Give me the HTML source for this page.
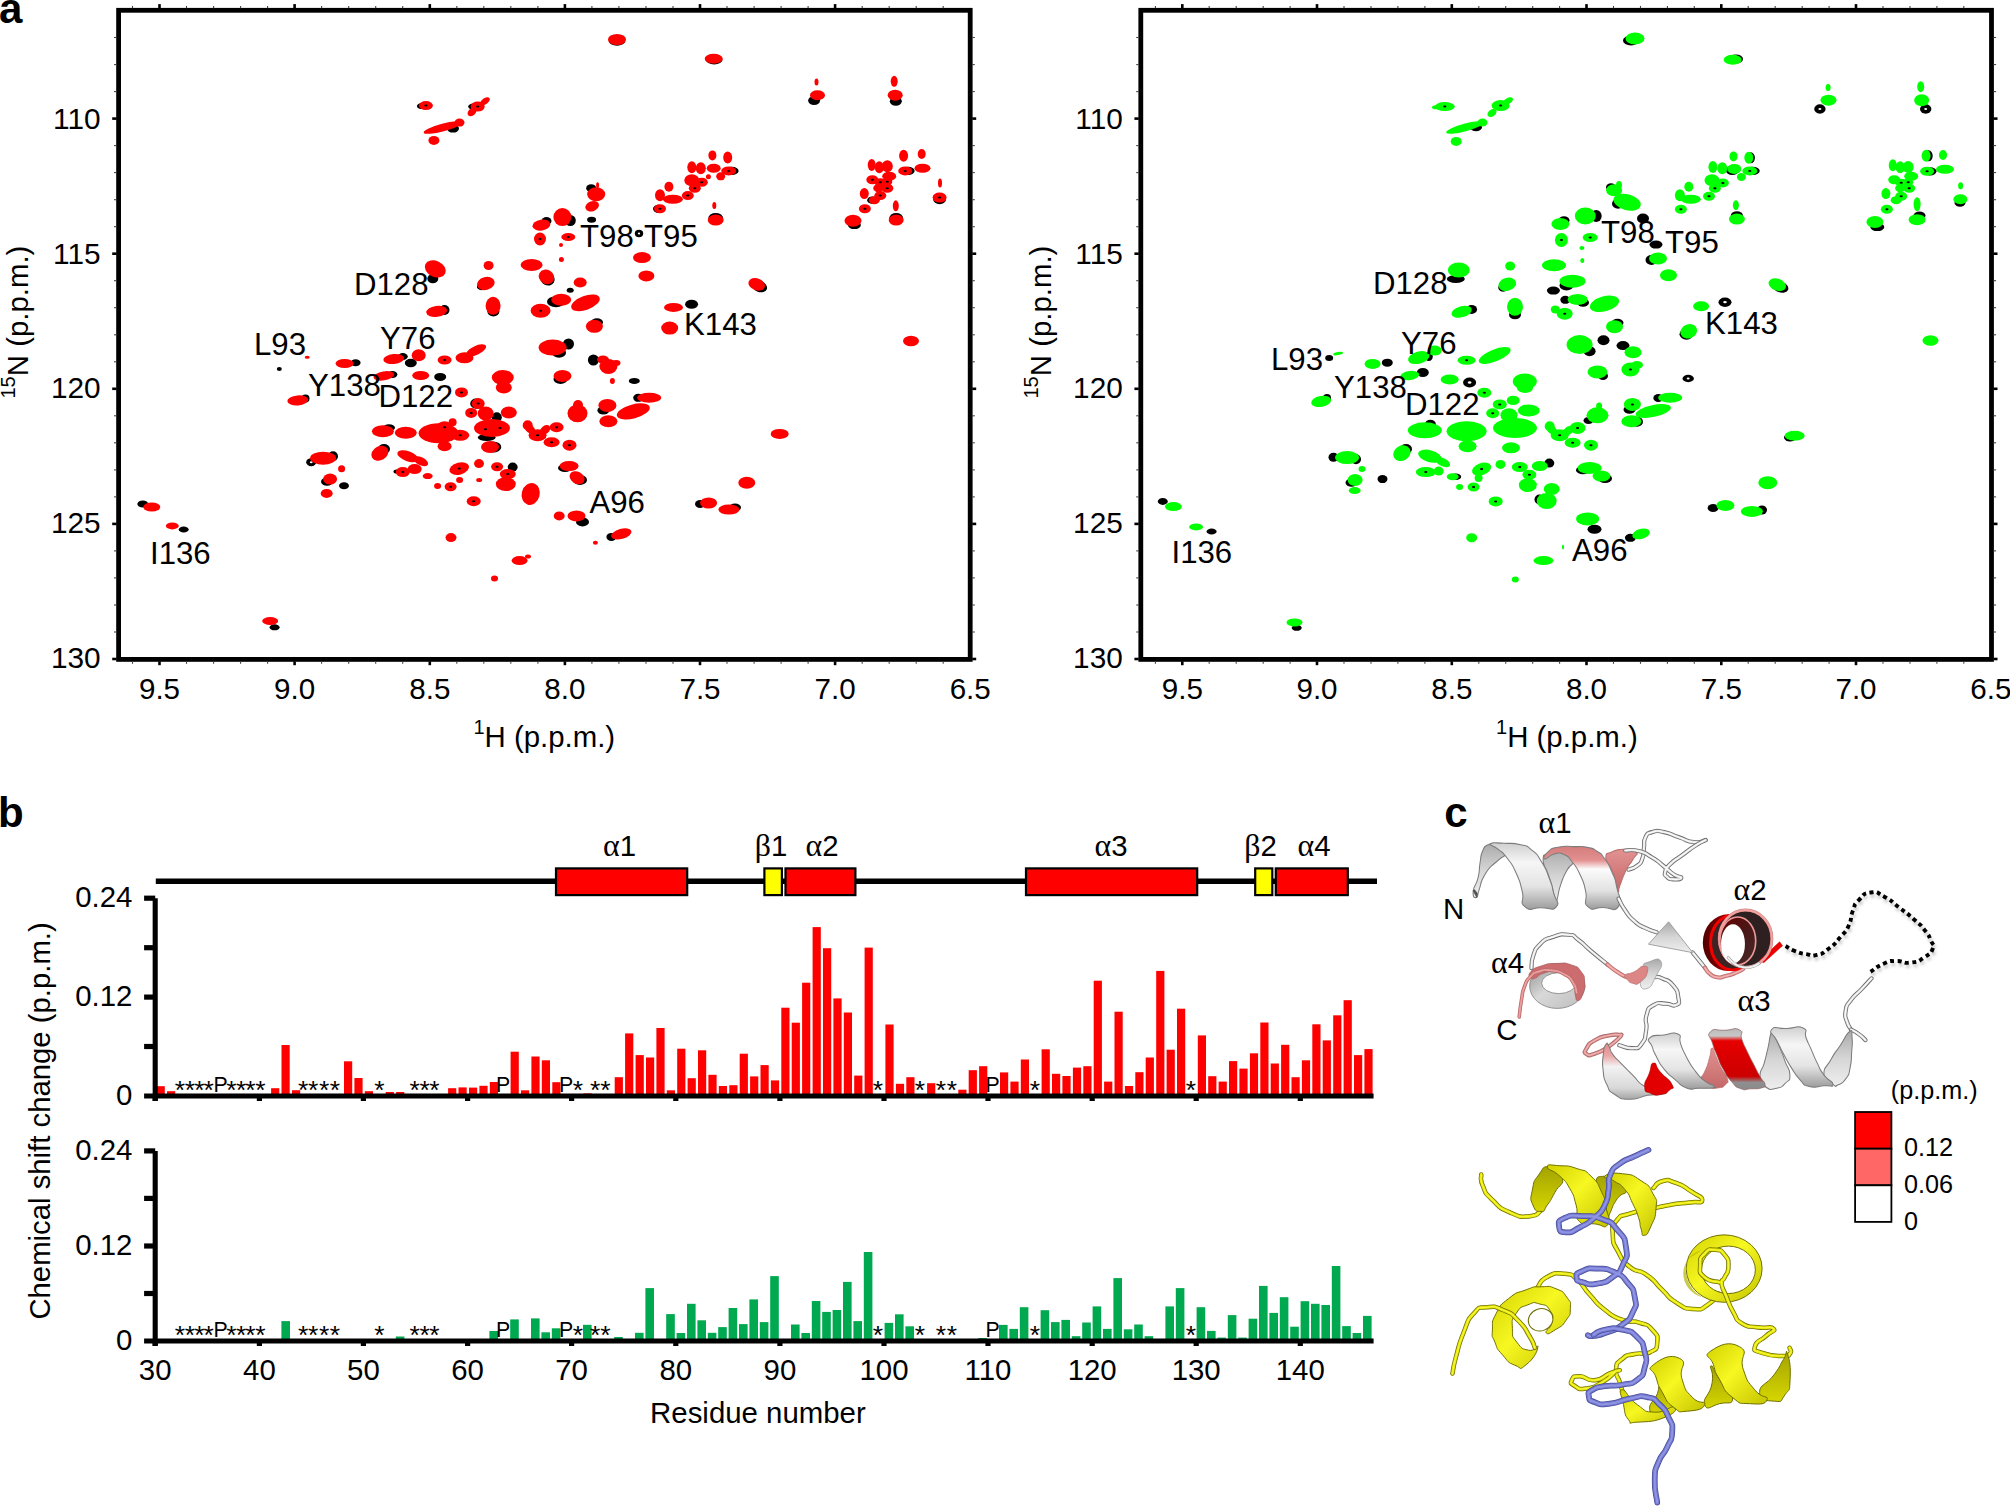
<!DOCTYPE html>
<html><head><meta charset="utf-8"><title>Figure</title>
<style>html,body{margin:0;padding:0;background:#fff}svg{display:block}</style></head><body>
<svg width="2010" height="1506" viewBox="0 0 2010 1506">
<rect width="2010" height="1506" fill="#fff"/>
<text x="-1.0" y="22.9" font-size="42" text-anchor="start" font-weight="bold" font-family='"Liberation Sans", sans-serif' >a</text>
<text x="-2.0" y="826.8" font-size="42" text-anchor="start" font-weight="bold" font-family='"Liberation Sans", sans-serif' >b</text>
<text x="1444.3" y="826.9" font-size="42" text-anchor="start" font-weight="bold" font-family='"Liberation Sans", sans-serif' >c</text>
<ellipse cx="617.0" cy="40.7" rx="8.3" ry="5.1" fill="#000"/>
<ellipse cx="714.2" cy="59.8" rx="8.3" ry="4.6" fill="#000"/>
<ellipse cx="421.9" cy="106.1" rx="5.0" ry="3.0" fill="#000"/>
<ellipse cx="473.2" cy="106.6" rx="5.0" ry="3.0" fill="#000"/>
<ellipse cx="453.0" cy="128.6" rx="6.0" ry="4.0" fill="#000"/>
<ellipse cx="731.7" cy="170.9" rx="6.9" ry="4.1" fill="#000"/>
<ellipse cx="658.5" cy="208.8" rx="5.5" ry="4.1" fill="#000"/>
<ellipse cx="715.7" cy="218.1" rx="7.4" ry="5.1" fill="#000"/>
<ellipse cx="591.2" cy="188.2" rx="5.0" ry="4.0" fill="#000"/>
<ellipse cx="570.3" cy="220.5" rx="5.5" ry="5.5" fill="#000"/>
<ellipse cx="546.5" cy="221.0" rx="5.0" ry="4.0" fill="#000"/>
<ellipse cx="591.6" cy="219.7" rx="4.5" ry="3.0" fill="#000"/>
<ellipse cx="639.0" cy="233.5" rx="4.2" ry="3.7" fill="#000"/>
<ellipse cx="639.0" cy="233.5" rx="1.1" ry="0.9" fill="#fff"/>
<ellipse cx="759.5" cy="286.5" rx="7.8" ry="5.5" fill="#000" transform="rotate(20 759.5 286.5)"/>
<ellipse cx="432.8" cy="278.7" rx="5.5" ry="4.5" fill="#000"/>
<ellipse cx="482.8" cy="286.0" rx="6.0" ry="4.0" fill="#000" transform="rotate(-15 482.8 286.0)"/>
<ellipse cx="547.5" cy="278.9" rx="7.4" ry="6.4" fill="#000" transform="rotate(30 547.5 278.9)"/>
<ellipse cx="570.2" cy="290.3" rx="3.5" ry="2.5" fill="#000"/>
<ellipse cx="814.1" cy="100.6" rx="6.0" ry="4.5" fill="#000"/>
<ellipse cx="895.8" cy="101.2" rx="6.0" ry="4.5" fill="#000"/>
<ellipse cx="908.2" cy="170.9" rx="6.4" ry="4.1" fill="#000"/>
<ellipse cx="872.3" cy="200.2" rx="5.1" ry="3.7" fill="#000"/>
<ellipse cx="896.2" cy="218.1" rx="6.9" ry="5.1" fill="#000"/>
<ellipse cx="854.4" cy="225.1" rx="6.5" ry="4.0" fill="#000"/>
<ellipse cx="939.6" cy="199.6" rx="6.4" ry="4.6" fill="#000"/>
<ellipse cx="493.4" cy="311.5" rx="6.0" ry="5.0" fill="#000"/>
<ellipse cx="444.5" cy="310.0" rx="5.0" ry="5.0" fill="#000"/>
<ellipse cx="279.3" cy="369.1" rx="2.5" ry="2.0" fill="#000"/>
<ellipse cx="355.6" cy="362.7" rx="5.0" ry="3.5" fill="#000"/>
<ellipse cx="402.8" cy="356.6" rx="5.0" ry="3.5" fill="#000"/>
<ellipse cx="410.8" cy="363.0" rx="6.0" ry="4.2" fill="#000"/>
<ellipse cx="392.4" cy="374.5" rx="5.0" ry="3.5" fill="#000"/>
<ellipse cx="440.2" cy="376.9" rx="6.0" ry="4.0" fill="#000"/>
<ellipse cx="305.5" cy="398.5" rx="4.0" ry="4.0" fill="#000"/>
<ellipse cx="476.2" cy="403.6" rx="6.0" ry="5.1" fill="#000"/>
<ellipse cx="496.8" cy="417.3" rx="5.0" ry="5.0" fill="#000"/>
<ellipse cx="389.0" cy="427.7" rx="6.0" ry="3.5" fill="#000"/>
<ellipse cx="486.7" cy="437.5" rx="9.0" ry="3.5" fill="#000"/>
<ellipse cx="493.0" cy="447.0" rx="8.3" ry="5.5" fill="#000"/>
<ellipse cx="311.2" cy="462.2" rx="5.0" ry="4.0" fill="#000"/>
<ellipse cx="311.2" cy="462.2" rx="1.4" ry="1.0" fill="#fff"/>
<ellipse cx="333.0" cy="456.2" rx="5.0" ry="5.0" fill="#000"/>
<ellipse cx="384.0" cy="449.0" rx="6.0" ry="5.0" fill="#000"/>
<ellipse cx="327.0" cy="481.7" rx="6.0" ry="4.0" fill="#000"/>
<ellipse cx="344.0" cy="485.7" rx="5.0" ry="3.5" fill="#000"/>
<ellipse cx="396.5" cy="471.5" rx="3.0" ry="2.0" fill="#000"/>
<ellipse cx="512.7" cy="467.1" rx="5.0" ry="4.5" fill="#000"/>
<ellipse cx="142.8" cy="504.0" rx="5.5" ry="3.5" fill="#000"/>
<ellipse cx="183.7" cy="529.5" rx="5.0" ry="3.0" fill="#000"/>
<ellipse cx="556.0" cy="301.7" rx="9.0" ry="5.5" fill="#000"/>
<ellipse cx="597.0" cy="322.3" rx="6.0" ry="4.0" fill="#000"/>
<ellipse cx="691.6" cy="304.2" rx="6.5" ry="4.5" fill="#000"/>
<ellipse cx="568.5" cy="344.0" rx="5.5" ry="5.5" fill="#000"/>
<ellipse cx="559.0" cy="352.7" rx="7.0" ry="5.0" fill="#000"/>
<ellipse cx="593.4" cy="360.0" rx="5.5" ry="5.5" fill="#000"/>
<ellipse cx="634.3" cy="380.9" rx="5.5" ry="3.0" fill="#000"/>
<ellipse cx="560.5" cy="379.0" rx="7.0" ry="5.0" fill="#000"/>
<ellipse cx="638.2" cy="397.8" rx="5.0" ry="4.0" fill="#000"/>
<ellipse cx="603.4" cy="410.4" rx="6.0" ry="4.0" fill="#000"/>
<ellipse cx="565.0" cy="468.0" rx="7.0" ry="4.0" fill="#000"/>
<ellipse cx="580.0" cy="480.0" rx="7.0" ry="5.0" fill="#000"/>
<ellipse cx="700.0" cy="504.0" rx="5.0" ry="4.0" fill="#000"/>
<ellipse cx="735.0" cy="507.5" rx="6.0" ry="4.0" fill="#000"/>
<ellipse cx="582.5" cy="521.9" rx="6.5" ry="4.5" fill="#000"/>
<ellipse cx="611.4" cy="536.9" rx="5.0" ry="4.0" fill="#000"/>
<ellipse cx="274.6" cy="627.3" rx="5.0" ry="3.0" fill="#000"/>
<ellipse cx="617.0" cy="39.5" rx="9.0" ry="5.5" fill="#ff0000"/>
<ellipse cx="713.7" cy="58.8" rx="9.0" ry="5.0" fill="#ff0000"/>
<ellipse cx="425.9" cy="105.6" rx="7.0" ry="4.5" fill="#ff0000"/>
<ellipse cx="477.7" cy="106.6" rx="7.0" ry="5.0" fill="#ff0000"/>
<ellipse cx="485.0" cy="101.3" rx="5.5" ry="3.0" fill="#ff0000" transform="rotate(-35 485.0 101.3)"/>
<ellipse cx="472.0" cy="112.0" rx="5.0" ry="3.5" fill="#ff0000" transform="rotate(-40 472.0 112.0)"/>
<ellipse cx="443.0" cy="127.5" rx="20.0" ry="3.8" fill="#ff0000" transform="rotate(-15 443.0 127.5)"/>
<ellipse cx="459.5" cy="122.6" rx="5.0" ry="4.0" fill="#ff0000"/>
<ellipse cx="433.9" cy="140.4" rx="5.5" ry="4.5" fill="#ff0000"/>
<ellipse cx="712.4" cy="155.4" rx="4.0" ry="5.0" fill="#ff0000"/>
<ellipse cx="727.7" cy="157.4" rx="4.5" ry="6.0" fill="#ff0000"/>
<ellipse cx="691.8" cy="167.3" rx="4.5" ry="6.0" fill="#ff0000"/>
<ellipse cx="700.8" cy="168.3" rx="5.0" ry="6.0" fill="#ff0000"/>
<ellipse cx="713.7" cy="168.3" rx="7.0" ry="4.5" fill="#ff0000"/>
<ellipse cx="728.7" cy="170.9" rx="7.5" ry="4.5" fill="#ff0000"/>
<ellipse cx="720.7" cy="176.3" rx="4.5" ry="4.0" fill="#ff0000"/>
<ellipse cx="708.4" cy="176.7" rx="2.5" ry="2.5" fill="#ff0000"/>
<ellipse cx="691.8" cy="180.3" rx="7.5" ry="6.0" fill="#ff0000"/>
<ellipse cx="701.8" cy="182.3" rx="6.0" ry="4.5" fill="#ff0000"/>
<ellipse cx="694.8" cy="188.2" rx="6.0" ry="4.5" fill="#ff0000"/>
<ellipse cx="687.8" cy="195.6" rx="6.0" ry="4.5" fill="#ff0000"/>
<ellipse cx="668.9" cy="186.7" rx="4.5" ry="5.0" fill="#ff0000"/>
<ellipse cx="660.0" cy="195.2" rx="5.0" ry="6.0" fill="#ff0000"/>
<ellipse cx="672.9" cy="199.2" rx="10.0" ry="4.5" fill="#ff0000"/>
<ellipse cx="660.0" cy="208.8" rx="6.0" ry="4.5" fill="#ff0000"/>
<ellipse cx="714.3" cy="205.6" rx="2.0" ry="3.5" fill="#ff0000"/>
<ellipse cx="715.7" cy="220.1" rx="8.0" ry="5.5" fill="#ff0000"/>
<ellipse cx="596.2" cy="194.2" rx="9.0" ry="7.0" fill="#ff0000"/>
<ellipse cx="592.2" cy="206.2" rx="7.0" ry="5.0" fill="#ff0000" transform="rotate(-20 592.2 206.2)"/>
<ellipse cx="597.6" cy="185.3" rx="1.5" ry="3.0" fill="#ff0000"/>
<ellipse cx="562.4" cy="217.1" rx="9.0" ry="9.0" fill="#ff0000"/>
<ellipse cx="541.4" cy="225.1" rx="9.0" ry="5.5" fill="#ff0000" transform="rotate(-8 541.4 225.1)"/>
<ellipse cx="540.0" cy="239.0" rx="6.0" ry="6.5" fill="#ff0000"/>
<ellipse cx="568.3" cy="237.0" rx="7.0" ry="4.0" fill="#ff0000"/>
<ellipse cx="561.0" cy="245.0" rx="2.0" ry="2.0" fill="#ff0000"/>
<ellipse cx="561.4" cy="259.4" rx="2.5" ry="2.5" fill="#ff0000"/>
<ellipse cx="642.0" cy="257.6" rx="9.0" ry="5.5" fill="#ff0000"/>
<ellipse cx="646.4" cy="275.9" rx="8.0" ry="5.5" fill="#ff0000"/>
<ellipse cx="756.7" cy="284.3" rx="8.5" ry="6.0" fill="#ff0000" transform="rotate(20 756.7 284.3)"/>
<ellipse cx="435.3" cy="268.9" rx="11.0" ry="8.0" fill="#ff0000" transform="rotate(25 435.3 268.9)"/>
<ellipse cx="488.6" cy="265.5" rx="5.0" ry="4.5" fill="#ff0000"/>
<ellipse cx="485.8" cy="283.5" rx="9.0" ry="6.5" fill="#ff0000" transform="rotate(-15 485.8 283.5)"/>
<ellipse cx="531.6" cy="264.9" rx="11.0" ry="6.0" fill="#ff0000"/>
<ellipse cx="546.5" cy="276.9" rx="8.0" ry="7.0" fill="#ff0000" transform="rotate(30 546.5 276.9)"/>
<ellipse cx="580.2" cy="282.5" rx="6.5" ry="5.0" fill="#ff0000"/>
<ellipse cx="816.5" cy="82.0" rx="2.0" ry="3.5" fill="#ff0000"/>
<ellipse cx="817.5" cy="95.2" rx="7.5" ry="5.0" fill="#ff0000"/>
<ellipse cx="894.2" cy="81.3" rx="3.5" ry="5.5" fill="#ff0000"/>
<ellipse cx="895.2" cy="95.2" rx="7.5" ry="5.5" fill="#ff0000"/>
<ellipse cx="903.6" cy="155.8" rx="4.5" ry="6.0" fill="#ff0000"/>
<ellipse cx="921.7" cy="154.0" rx="4.0" ry="5.0" fill="#ff0000"/>
<ellipse cx="922.5" cy="168.3" rx="8.0" ry="4.5" fill="#ff0000"/>
<ellipse cx="905.2" cy="170.9" rx="7.0" ry="4.5" fill="#ff0000"/>
<ellipse cx="871.7" cy="164.9" rx="4.0" ry="6.0" fill="#ff0000"/>
<ellipse cx="879.3" cy="167.3" rx="4.5" ry="6.0" fill="#ff0000"/>
<ellipse cx="887.3" cy="166.3" rx="5.5" ry="6.0" fill="#ff0000"/>
<ellipse cx="889.2" cy="176.3" rx="7.0" ry="4.5" fill="#ff0000"/>
<ellipse cx="872.3" cy="179.7" rx="6.0" ry="4.5" fill="#ff0000"/>
<ellipse cx="880.3" cy="182.3" rx="6.0" ry="4.0" fill="#ff0000"/>
<ellipse cx="887.3" cy="181.7" rx="5.0" ry="4.0" fill="#ff0000"/>
<ellipse cx="887.3" cy="188.2" rx="6.0" ry="4.5" fill="#ff0000"/>
<ellipse cx="878.3" cy="188.2" rx="5.0" ry="4.0" fill="#ff0000"/>
<ellipse cx="864.3" cy="193.6" rx="4.5" ry="5.5" fill="#ff0000"/>
<ellipse cx="880.3" cy="195.6" rx="6.0" ry="4.5" fill="#ff0000"/>
<ellipse cx="874.3" cy="200.2" rx="5.5" ry="4.0" fill="#ff0000"/>
<ellipse cx="864.9" cy="208.8" rx="6.0" ry="4.5" fill="#ff0000"/>
<ellipse cx="895.8" cy="205.8" rx="3.0" ry="5.5" fill="#ff0000"/>
<ellipse cx="896.2" cy="220.1" rx="7.5" ry="5.5" fill="#ff0000"/>
<ellipse cx="853.0" cy="220.7" rx="8.5" ry="6.0" fill="#ff0000"/>
<ellipse cx="940.0" cy="182.9" rx="2.0" ry="4.5" fill="#ff0000"/>
<ellipse cx="939.6" cy="197.6" rx="7.0" ry="5.0" fill="#ff0000"/>
<ellipse cx="911.0" cy="341.0" rx="8.0" ry="5.2" fill="#ff0000"/>
<ellipse cx="493.1" cy="305.8" rx="7.5" ry="9.0" fill="#ff0000"/>
<ellipse cx="436.7" cy="311.4" rx="10.5" ry="5.5" fill="#ff0000" transform="rotate(-8 436.7 311.4)"/>
<ellipse cx="307.2" cy="357.2" rx="2.5" ry="1.5" fill="#ff0000"/>
<ellipse cx="344.6" cy="363.5" rx="9.0" ry="4.5" fill="#ff0000"/>
<ellipse cx="393.8" cy="359.0" rx="10.5" ry="5.0" fill="#ff0000" transform="rotate(-5 393.8 359.0)"/>
<ellipse cx="418.7" cy="355.2" rx="7.0" ry="6.0" fill="#ff0000"/>
<ellipse cx="444.6" cy="360.0" rx="7.0" ry="4.5" fill="#ff0000"/>
<ellipse cx="464.5" cy="357.8" rx="9.0" ry="5.5" fill="#ff0000"/>
<ellipse cx="476.0" cy="350.5" rx="11.0" ry="4.5" fill="#ff0000" transform="rotate(-25 476.0 350.5)"/>
<ellipse cx="383.9" cy="375.9" rx="10.5" ry="4.5" fill="#ff0000" transform="rotate(-10 383.9 375.9)"/>
<ellipse cx="420.7" cy="375.5" rx="8.5" ry="4.5" fill="#ff0000"/>
<ellipse cx="502.8" cy="377.5" rx="11.0" ry="7.5" fill="#ff0000"/>
<ellipse cx="503.8" cy="387.5" rx="8.0" ry="6.0" fill="#ff0000"/>
<ellipse cx="297.8" cy="400.4" rx="10.5" ry="5.0" fill="#ff0000" transform="rotate(-5 297.8 400.4)"/>
<ellipse cx="461.5" cy="392.4" rx="6.5" ry="5.0" fill="#ff0000"/>
<ellipse cx="478.2" cy="403.6" rx="6.5" ry="5.5" fill="#ff0000"/>
<ellipse cx="471.2" cy="412.9" rx="6.0" ry="5.0" fill="#ff0000"/>
<ellipse cx="485.7" cy="413.5" rx="8.0" ry="7.0" fill="#ff0000"/>
<ellipse cx="508.8" cy="412.4" rx="8.0" ry="6.0" fill="#ff0000"/>
<ellipse cx="382.9" cy="431.3" rx="11.0" ry="6.0" fill="#ff0000"/>
<ellipse cx="405.8" cy="432.7" rx="11.0" ry="6.0" fill="#ff0000"/>
<ellipse cx="438.6" cy="433.3" rx="20.0" ry="10.0" fill="#ff0000"/>
<ellipse cx="444.6" cy="427.3" rx="8.0" ry="6.0" fill="#ff0000"/>
<ellipse cx="452.6" cy="422.3" rx="4.0" ry="4.0" fill="#ff0000"/>
<ellipse cx="460.3" cy="435.3" rx="9.0" ry="5.5" fill="#ff0000"/>
<ellipse cx="492.0" cy="428.0" rx="18.0" ry="9.0" fill="#ff0000"/>
<ellipse cx="485.5" cy="429.3" rx="3.0" ry="2.0" fill="#ff0000"/>
<ellipse cx="500.0" cy="428.0" rx="3.0" ry="2.0" fill="#ff0000"/>
<ellipse cx="444.6" cy="446.2" rx="7.0" ry="5.0" fill="#ff0000"/>
<ellipse cx="490.0" cy="447.0" rx="9.0" ry="6.0" fill="#ff0000"/>
<ellipse cx="323.1" cy="458.2" rx="13.0" ry="6.5" fill="#ff0000"/>
<ellipse cx="379.9" cy="453.2" rx="9.0" ry="7.0" fill="#ff0000" transform="rotate(-30 379.9 453.2)"/>
<ellipse cx="341.6" cy="468.7" rx="3.5" ry="3.5" fill="#ff0000"/>
<ellipse cx="330.1" cy="479.1" rx="7.0" ry="5.5" fill="#ff0000"/>
<ellipse cx="326.7" cy="493.4" rx="6.0" ry="4.5" fill="#ff0000"/>
<ellipse cx="407.8" cy="456.2" rx="11.0" ry="5.0" fill="#ff0000" transform="rotate(20 407.8 456.2)"/>
<ellipse cx="420.7" cy="461.2" rx="8.0" ry="4.0" fill="#ff0000" transform="rotate(25 420.7 461.2)"/>
<ellipse cx="402.8" cy="472.1" rx="7.0" ry="5.0" fill="#ff0000"/>
<ellipse cx="414.7" cy="469.1" rx="7.0" ry="5.0" fill="#ff0000"/>
<ellipse cx="427.7" cy="476.1" rx="5.0" ry="3.0" fill="#ff0000"/>
<ellipse cx="437.6" cy="486.0" rx="3.5" ry="3.0" fill="#ff0000"/>
<ellipse cx="450.6" cy="486.7" rx="6.0" ry="4.5" fill="#ff0000"/>
<ellipse cx="459.3" cy="468.6" rx="10.0" ry="6.0" fill="#ff0000" transform="rotate(-15 459.3 468.6)"/>
<ellipse cx="479.0" cy="463.6" rx="5.0" ry="4.5" fill="#ff0000"/>
<ellipse cx="497.1" cy="466.7" rx="6.0" ry="4.5" fill="#ff0000"/>
<ellipse cx="459.6" cy="480.0" rx="3.5" ry="3.0" fill="#ff0000"/>
<ellipse cx="479.2" cy="480.0" rx="3.0" ry="2.0" fill="#ff0000"/>
<ellipse cx="473.7" cy="501.2" rx="7.0" ry="5.0" fill="#ff0000"/>
<ellipse cx="451.0" cy="537.6" rx="5.5" ry="4.5" fill="#ff0000"/>
<ellipse cx="151.8" cy="507.0" rx="8.5" ry="4.5" fill="#ff0000"/>
<ellipse cx="172.3" cy="525.9" rx="6.5" ry="3.5" fill="#ff0000"/>
<ellipse cx="561.2" cy="299.8" rx="10.0" ry="6.0" fill="#ff0000"/>
<ellipse cx="585.5" cy="302.8" rx="15.0" ry="7.0" fill="#ff0000" transform="rotate(-20 585.5 302.8)"/>
<ellipse cx="540.6" cy="310.8" rx="10.0" ry="7.0" fill="#ff0000"/>
<ellipse cx="594.4" cy="326.3" rx="8.5" ry="6.5" fill="#ff0000"/>
<ellipse cx="673.5" cy="307.4" rx="9.5" ry="4.5" fill="#ff0000"/>
<ellipse cx="669.7" cy="328.1" rx="8.5" ry="6.5" fill="#ff0000"/>
<ellipse cx="552.6" cy="347.6" rx="14.0" ry="8.0" fill="#ff0000"/>
<ellipse cx="608.4" cy="366.5" rx="9.0" ry="7.5" fill="#ff0000"/>
<ellipse cx="603.0" cy="359.5" rx="6.0" ry="4.0" fill="#ff0000"/>
<ellipse cx="616.0" cy="363.0" rx="4.5" ry="3.0" fill="#ff0000"/>
<ellipse cx="612.4" cy="380.9" rx="2.5" ry="3.0" fill="#ff0000"/>
<ellipse cx="562.5" cy="375.9" rx="9.0" ry="6.0" fill="#ff0000"/>
<ellipse cx="649.2" cy="397.8" rx="12.0" ry="5.0" fill="#ff0000"/>
<ellipse cx="607.4" cy="405.4" rx="9.0" ry="6.5" fill="#ff0000"/>
<ellipse cx="633.3" cy="411.4" rx="17.0" ry="7.0" fill="#ff0000" transform="rotate(-15 633.3 411.4)"/>
<ellipse cx="608.4" cy="421.3" rx="9.0" ry="6.0" fill="#ff0000"/>
<ellipse cx="577.5" cy="413.3" rx="10.0" ry="9.0" fill="#ff0000"/>
<ellipse cx="578.0" cy="405.0" rx="5.0" ry="5.0" fill="#ff0000"/>
<ellipse cx="527.7" cy="425.3" rx="5.0" ry="5.0" fill="#ff0000"/>
<ellipse cx="537.6" cy="435.3" rx="9.0" ry="6.0" fill="#ff0000"/>
<ellipse cx="530.0" cy="429.0" rx="6.0" ry="4.0" fill="#ff0000" transform="rotate(40 530.0 429.0)"/>
<ellipse cx="545.0" cy="430.0" rx="6.0" ry="4.0" fill="#ff0000" transform="rotate(-40 545.0 430.0)"/>
<ellipse cx="556.6" cy="427.3" rx="7.0" ry="5.0" fill="#ff0000"/>
<ellipse cx="551.6" cy="442.2" rx="8.0" ry="5.0" fill="#ff0000"/>
<ellipse cx="569.5" cy="445.2" rx="7.0" ry="5.5" fill="#ff0000"/>
<ellipse cx="507.8" cy="474.1" rx="8.0" ry="5.0" fill="#ff0000"/>
<ellipse cx="505.8" cy="484.1" rx="10.0" ry="7.0" fill="#ff0000"/>
<ellipse cx="530.7" cy="494.0" rx="9.0" ry="11.0" fill="#ff0000" transform="rotate(15 530.7 494.0)"/>
<ellipse cx="569.1" cy="466.1" rx="9.5" ry="5.0" fill="#ff0000"/>
<ellipse cx="577.1" cy="477.7" rx="8.0" ry="6.0" fill="#ff0000" transform="rotate(30 577.1 477.7)"/>
<ellipse cx="779.7" cy="433.9" rx="9.0" ry="5.0" fill="#ff0000"/>
<ellipse cx="746.8" cy="482.7" rx="8.5" ry="6.0" fill="#ff0000"/>
<ellipse cx="708.6" cy="503.0" rx="8.5" ry="5.5" fill="#ff0000"/>
<ellipse cx="728.9" cy="509.6" rx="10.5" ry="5.0" fill="#ff0000"/>
<ellipse cx="559.2" cy="515.9" rx="5.5" ry="4.5" fill="#ff0000"/>
<ellipse cx="576.5" cy="515.9" rx="9.0" ry="5.5" fill="#ff0000"/>
<ellipse cx="621.3" cy="533.9" rx="10.5" ry="5.0" fill="#ff0000" transform="rotate(-15 621.3 533.9)"/>
<ellipse cx="595.4" cy="542.8" rx="2.5" ry="2.0" fill="#ff0000"/>
<ellipse cx="270.2" cy="621.0" rx="8.0" ry="4.0" fill="#ff0000"/>
<ellipse cx="519.6" cy="560.6" rx="8.0" ry="4.5" fill="#ff0000"/>
<ellipse cx="528.0" cy="556.5" rx="3.0" ry="2.0" fill="#ff0000"/>
<ellipse cx="494.5" cy="578.5" rx="3.5" ry="3.0" fill="#ff0000"/>
<ellipse cx="425.9" cy="105.6" rx="1.6" ry="1.0" fill="#000"/>
<ellipse cx="477.7" cy="106.6" rx="1.6" ry="1.0" fill="#000"/>
<ellipse cx="728.7" cy="170.9" rx="1.6" ry="1.0" fill="#000"/>
<ellipse cx="701.8" cy="182.3" rx="1.6" ry="1.0" fill="#000"/>
<ellipse cx="694.8" cy="188.2" rx="1.6" ry="1.0" fill="#000"/>
<ellipse cx="687.8" cy="195.6" rx="1.6" ry="1.0" fill="#000"/>
<ellipse cx="660.0" cy="208.8" rx="1.6" ry="1.0" fill="#000"/>
<ellipse cx="540.0" cy="239.0" rx="1.6" ry="1.0" fill="#000"/>
<ellipse cx="568.3" cy="237.0" rx="1.6" ry="1.0" fill="#000"/>
<ellipse cx="905.2" cy="170.9" rx="1.6" ry="1.0" fill="#000"/>
<ellipse cx="872.3" cy="179.7" rx="1.6" ry="1.0" fill="#000"/>
<ellipse cx="880.3" cy="182.3" rx="1.6" ry="1.0" fill="#000"/>
<ellipse cx="887.3" cy="181.7" rx="1.6" ry="1.0" fill="#000"/>
<ellipse cx="887.3" cy="188.2" rx="1.6" ry="1.0" fill="#000"/>
<ellipse cx="880.3" cy="195.6" rx="1.6" ry="1.0" fill="#000"/>
<ellipse cx="864.9" cy="208.8" rx="1.6" ry="1.0" fill="#000"/>
<ellipse cx="939.6" cy="197.6" rx="1.6" ry="1.0" fill="#000"/>
<ellipse cx="444.6" cy="360.0" rx="1.6" ry="1.0" fill="#000"/>
<ellipse cx="461.5" cy="392.4" rx="1.6" ry="1.0" fill="#000"/>
<ellipse cx="478.2" cy="403.6" rx="1.6" ry="1.0" fill="#000"/>
<ellipse cx="471.2" cy="412.9" rx="1.6" ry="1.0" fill="#000"/>
<ellipse cx="444.6" cy="427.3" rx="1.6" ry="1.0" fill="#000"/>
<ellipse cx="460.3" cy="435.3" rx="1.6" ry="1.0" fill="#000"/>
<ellipse cx="485.5" cy="429.3" rx="1.6" ry="1.0" fill="#000"/>
<ellipse cx="500.0" cy="428.0" rx="1.6" ry="1.0" fill="#000"/>
<ellipse cx="402.8" cy="472.1" rx="1.6" ry="1.0" fill="#000"/>
<ellipse cx="450.6" cy="486.7" rx="1.6" ry="1.0" fill="#000"/>
<ellipse cx="459.3" cy="468.6" rx="1.6" ry="1.0" fill="#000"/>
<ellipse cx="497.1" cy="466.7" rx="1.6" ry="1.0" fill="#000"/>
<ellipse cx="473.7" cy="501.2" rx="1.6" ry="1.0" fill="#000"/>
<ellipse cx="540.6" cy="310.8" rx="1.6" ry="1.0" fill="#000"/>
<ellipse cx="537.6" cy="435.3" rx="1.6" ry="1.0" fill="#000"/>
<ellipse cx="556.6" cy="427.3" rx="1.6" ry="1.0" fill="#000"/>
<ellipse cx="551.6" cy="442.2" rx="1.6" ry="1.0" fill="#000"/>
<ellipse cx="569.5" cy="445.2" rx="1.6" ry="1.0" fill="#000"/>
<ellipse cx="507.8" cy="474.1" rx="1.6" ry="1.0" fill="#000"/>
<rect x="118.6" y="10.3" width="851.6" height="649.1" fill="none" stroke="#000" stroke-width="4.8"/>
<line x1="132.5" y1="5.9" x2="132.5" y2="8.3" stroke="#444" stroke-width="1.1" />
<line x1="132.5" y1="661.4" x2="132.5" y2="663.8" stroke="#444" stroke-width="1.1" />
<line x1="159.5" y1="4.1" x2="159.5" y2="8.3" stroke="#000" stroke-width="2.6" />
<line x1="159.5" y1="661.4" x2="159.5" y2="665.2" stroke="#000" stroke-width="2.6" />
<line x1="186.5" y1="5.9" x2="186.5" y2="8.3" stroke="#444" stroke-width="1.1" />
<line x1="186.5" y1="661.4" x2="186.5" y2="663.8" stroke="#444" stroke-width="1.1" />
<line x1="213.6" y1="5.9" x2="213.6" y2="8.3" stroke="#444" stroke-width="1.1" />
<line x1="213.6" y1="661.4" x2="213.6" y2="663.8" stroke="#444" stroke-width="1.1" />
<line x1="240.6" y1="5.9" x2="240.6" y2="8.3" stroke="#444" stroke-width="1.1" />
<line x1="240.6" y1="661.4" x2="240.6" y2="663.8" stroke="#444" stroke-width="1.1" />
<line x1="267.6" y1="5.9" x2="267.6" y2="8.3" stroke="#444" stroke-width="1.1" />
<line x1="267.6" y1="661.4" x2="267.6" y2="663.8" stroke="#444" stroke-width="1.1" />
<line x1="294.6" y1="4.1" x2="294.6" y2="8.3" stroke="#000" stroke-width="2.6" />
<line x1="294.6" y1="661.4" x2="294.6" y2="665.2" stroke="#000" stroke-width="2.6" />
<line x1="321.6" y1="5.9" x2="321.6" y2="8.3" stroke="#444" stroke-width="1.1" />
<line x1="321.6" y1="661.4" x2="321.6" y2="663.8" stroke="#444" stroke-width="1.1" />
<line x1="348.7" y1="5.9" x2="348.7" y2="8.3" stroke="#444" stroke-width="1.1" />
<line x1="348.7" y1="661.4" x2="348.7" y2="663.8" stroke="#444" stroke-width="1.1" />
<line x1="375.7" y1="5.9" x2="375.7" y2="8.3" stroke="#444" stroke-width="1.1" />
<line x1="375.7" y1="661.4" x2="375.7" y2="663.8" stroke="#444" stroke-width="1.1" />
<line x1="402.7" y1="5.9" x2="402.7" y2="8.3" stroke="#444" stroke-width="1.1" />
<line x1="402.7" y1="661.4" x2="402.7" y2="663.8" stroke="#444" stroke-width="1.1" />
<line x1="429.8" y1="4.1" x2="429.8" y2="8.3" stroke="#000" stroke-width="2.6" />
<line x1="429.8" y1="661.4" x2="429.8" y2="665.2" stroke="#000" stroke-width="2.6" />
<line x1="456.8" y1="5.9" x2="456.8" y2="8.3" stroke="#444" stroke-width="1.1" />
<line x1="456.8" y1="661.4" x2="456.8" y2="663.8" stroke="#444" stroke-width="1.1" />
<line x1="483.8" y1="5.9" x2="483.8" y2="8.3" stroke="#444" stroke-width="1.1" />
<line x1="483.8" y1="661.4" x2="483.8" y2="663.8" stroke="#444" stroke-width="1.1" />
<line x1="510.8" y1="5.9" x2="510.8" y2="8.3" stroke="#444" stroke-width="1.1" />
<line x1="510.8" y1="661.4" x2="510.8" y2="663.8" stroke="#444" stroke-width="1.1" />
<line x1="537.9" y1="5.9" x2="537.9" y2="8.3" stroke="#444" stroke-width="1.1" />
<line x1="537.9" y1="661.4" x2="537.9" y2="663.8" stroke="#444" stroke-width="1.1" />
<line x1="564.9" y1="4.1" x2="564.9" y2="8.3" stroke="#000" stroke-width="2.6" />
<line x1="564.9" y1="661.4" x2="564.9" y2="665.2" stroke="#000" stroke-width="2.6" />
<line x1="591.9" y1="5.9" x2="591.9" y2="8.3" stroke="#444" stroke-width="1.1" />
<line x1="591.9" y1="661.4" x2="591.9" y2="663.8" stroke="#444" stroke-width="1.1" />
<line x1="618.9" y1="5.9" x2="618.9" y2="8.3" stroke="#444" stroke-width="1.1" />
<line x1="618.9" y1="661.4" x2="618.9" y2="663.8" stroke="#444" stroke-width="1.1" />
<line x1="646.0" y1="5.9" x2="646.0" y2="8.3" stroke="#444" stroke-width="1.1" />
<line x1="646.0" y1="661.4" x2="646.0" y2="663.8" stroke="#444" stroke-width="1.1" />
<line x1="673.0" y1="5.9" x2="673.0" y2="8.3" stroke="#444" stroke-width="1.1" />
<line x1="673.0" y1="661.4" x2="673.0" y2="663.8" stroke="#444" stroke-width="1.1" />
<line x1="700.0" y1="4.1" x2="700.0" y2="8.3" stroke="#000" stroke-width="2.6" />
<line x1="700.0" y1="661.4" x2="700.0" y2="665.2" stroke="#000" stroke-width="2.6" />
<line x1="727.0" y1="5.9" x2="727.0" y2="8.3" stroke="#444" stroke-width="1.1" />
<line x1="727.0" y1="661.4" x2="727.0" y2="663.8" stroke="#444" stroke-width="1.1" />
<line x1="754.1" y1="5.9" x2="754.1" y2="8.3" stroke="#444" stroke-width="1.1" />
<line x1="754.1" y1="661.4" x2="754.1" y2="663.8" stroke="#444" stroke-width="1.1" />
<line x1="781.1" y1="5.9" x2="781.1" y2="8.3" stroke="#444" stroke-width="1.1" />
<line x1="781.1" y1="661.4" x2="781.1" y2="663.8" stroke="#444" stroke-width="1.1" />
<line x1="808.1" y1="5.9" x2="808.1" y2="8.3" stroke="#444" stroke-width="1.1" />
<line x1="808.1" y1="661.4" x2="808.1" y2="663.8" stroke="#444" stroke-width="1.1" />
<line x1="835.1" y1="4.1" x2="835.1" y2="8.3" stroke="#000" stroke-width="2.6" />
<line x1="835.1" y1="661.4" x2="835.1" y2="665.2" stroke="#000" stroke-width="2.6" />
<line x1="862.2" y1="5.9" x2="862.2" y2="8.3" stroke="#444" stroke-width="1.1" />
<line x1="862.2" y1="661.4" x2="862.2" y2="663.8" stroke="#444" stroke-width="1.1" />
<line x1="889.2" y1="5.9" x2="889.2" y2="8.3" stroke="#444" stroke-width="1.1" />
<line x1="889.2" y1="661.4" x2="889.2" y2="663.8" stroke="#444" stroke-width="1.1" />
<line x1="916.2" y1="5.9" x2="916.2" y2="8.3" stroke="#444" stroke-width="1.1" />
<line x1="916.2" y1="661.4" x2="916.2" y2="663.8" stroke="#444" stroke-width="1.1" />
<line x1="943.2" y1="5.9" x2="943.2" y2="8.3" stroke="#444" stroke-width="1.1" />
<line x1="943.2" y1="661.4" x2="943.2" y2="663.8" stroke="#444" stroke-width="1.1" />
<line x1="114.0" y1="37.5" x2="116.6" y2="37.5" stroke="#444" stroke-width="1.1" />
<line x1="972.2" y1="37.5" x2="974.8" y2="37.5" stroke="#444" stroke-width="1.1" />
<line x1="114.0" y1="64.6" x2="116.6" y2="64.6" stroke="#444" stroke-width="1.1" />
<line x1="972.2" y1="64.6" x2="974.8" y2="64.6" stroke="#444" stroke-width="1.1" />
<line x1="114.0" y1="91.6" x2="116.6" y2="91.6" stroke="#444" stroke-width="1.1" />
<line x1="972.2" y1="91.6" x2="974.8" y2="91.6" stroke="#444" stroke-width="1.1" />
<line x1="112.2" y1="118.6" x2="116.6" y2="118.6" stroke="#000" stroke-width="2.6" />
<line x1="972.2" y1="118.6" x2="976.2" y2="118.6" stroke="#000" stroke-width="2.6" />
<line x1="114.0" y1="145.6" x2="116.6" y2="145.6" stroke="#444" stroke-width="1.1" />
<line x1="972.2" y1="145.6" x2="974.8" y2="145.6" stroke="#444" stroke-width="1.1" />
<line x1="114.0" y1="172.6" x2="116.6" y2="172.6" stroke="#444" stroke-width="1.1" />
<line x1="972.2" y1="172.6" x2="974.8" y2="172.6" stroke="#444" stroke-width="1.1" />
<line x1="114.0" y1="199.7" x2="116.6" y2="199.7" stroke="#444" stroke-width="1.1" />
<line x1="972.2" y1="199.7" x2="974.8" y2="199.7" stroke="#444" stroke-width="1.1" />
<line x1="114.0" y1="226.7" x2="116.6" y2="226.7" stroke="#444" stroke-width="1.1" />
<line x1="972.2" y1="226.7" x2="974.8" y2="226.7" stroke="#444" stroke-width="1.1" />
<line x1="112.2" y1="253.7" x2="116.6" y2="253.7" stroke="#000" stroke-width="2.6" />
<line x1="972.2" y1="253.7" x2="976.2" y2="253.7" stroke="#000" stroke-width="2.6" />
<line x1="114.0" y1="280.7" x2="116.6" y2="280.7" stroke="#444" stroke-width="1.1" />
<line x1="972.2" y1="280.7" x2="974.8" y2="280.7" stroke="#444" stroke-width="1.1" />
<line x1="114.0" y1="307.7" x2="116.6" y2="307.7" stroke="#444" stroke-width="1.1" />
<line x1="972.2" y1="307.7" x2="974.8" y2="307.7" stroke="#444" stroke-width="1.1" />
<line x1="114.0" y1="334.8" x2="116.6" y2="334.8" stroke="#444" stroke-width="1.1" />
<line x1="972.2" y1="334.8" x2="974.8" y2="334.8" stroke="#444" stroke-width="1.1" />
<line x1="114.0" y1="361.8" x2="116.6" y2="361.8" stroke="#444" stroke-width="1.1" />
<line x1="972.2" y1="361.8" x2="974.8" y2="361.8" stroke="#444" stroke-width="1.1" />
<line x1="112.2" y1="388.8" x2="116.6" y2="388.8" stroke="#000" stroke-width="2.6" />
<line x1="972.2" y1="388.8" x2="976.2" y2="388.8" stroke="#000" stroke-width="2.6" />
<line x1="114.0" y1="415.8" x2="116.6" y2="415.8" stroke="#444" stroke-width="1.1" />
<line x1="972.2" y1="415.8" x2="974.8" y2="415.8" stroke="#444" stroke-width="1.1" />
<line x1="114.0" y1="442.8" x2="116.6" y2="442.8" stroke="#444" stroke-width="1.1" />
<line x1="972.2" y1="442.8" x2="974.8" y2="442.8" stroke="#444" stroke-width="1.1" />
<line x1="114.0" y1="469.9" x2="116.6" y2="469.9" stroke="#444" stroke-width="1.1" />
<line x1="972.2" y1="469.9" x2="974.8" y2="469.9" stroke="#444" stroke-width="1.1" />
<line x1="114.0" y1="496.9" x2="116.6" y2="496.9" stroke="#444" stroke-width="1.1" />
<line x1="972.2" y1="496.9" x2="974.8" y2="496.9" stroke="#444" stroke-width="1.1" />
<line x1="112.2" y1="523.9" x2="116.6" y2="523.9" stroke="#000" stroke-width="2.6" />
<line x1="972.2" y1="523.9" x2="976.2" y2="523.9" stroke="#000" stroke-width="2.6" />
<line x1="114.0" y1="550.9" x2="116.6" y2="550.9" stroke="#444" stroke-width="1.1" />
<line x1="972.2" y1="550.9" x2="974.8" y2="550.9" stroke="#444" stroke-width="1.1" />
<line x1="114.0" y1="577.9" x2="116.6" y2="577.9" stroke="#444" stroke-width="1.1" />
<line x1="972.2" y1="577.9" x2="974.8" y2="577.9" stroke="#444" stroke-width="1.1" />
<line x1="114.0" y1="605.0" x2="116.6" y2="605.0" stroke="#444" stroke-width="1.1" />
<line x1="972.2" y1="605.0" x2="974.8" y2="605.0" stroke="#444" stroke-width="1.1" />
<line x1="114.0" y1="632.0" x2="116.6" y2="632.0" stroke="#444" stroke-width="1.1" />
<line x1="972.2" y1="632.0" x2="974.8" y2="632.0" stroke="#444" stroke-width="1.1" />
<line x1="112.2" y1="659.0" x2="116.6" y2="659.0" stroke="#000" stroke-width="2.6" />
<line x1="972.2" y1="659.0" x2="976.2" y2="659.0" stroke="#000" stroke-width="2.6" />
<text x="100.6" y="128.7" font-size="29.8" text-anchor="end" font-weight="normal" font-family='"Liberation Sans", sans-serif' >110</text>
<text x="100.6" y="263.5" font-size="29.8" text-anchor="end" font-weight="normal" font-family='"Liberation Sans", sans-serif' >115</text>
<text x="100.6" y="398.3" font-size="29.8" text-anchor="end" font-weight="normal" font-family='"Liberation Sans", sans-serif' >120</text>
<text x="100.6" y="533.1" font-size="29.8" text-anchor="end" font-weight="normal" font-family='"Liberation Sans", sans-serif' >125</text>
<text x="100.6" y="667.9" font-size="29.8" text-anchor="end" font-weight="normal" font-family='"Liberation Sans", sans-serif' >130</text>
<text x="159.5" y="698.7" font-size="29.6" text-anchor="middle" font-weight="normal" font-family='"Liberation Sans", sans-serif' >9.5</text>
<text x="294.6" y="698.7" font-size="29.6" text-anchor="middle" font-weight="normal" font-family='"Liberation Sans", sans-serif' >9.0</text>
<text x="429.8" y="698.7" font-size="29.6" text-anchor="middle" font-weight="normal" font-family='"Liberation Sans", sans-serif' >8.5</text>
<text x="564.9" y="698.7" font-size="29.6" text-anchor="middle" font-weight="normal" font-family='"Liberation Sans", sans-serif' >8.0</text>
<text x="700.0" y="698.7" font-size="29.6" text-anchor="middle" font-weight="normal" font-family='"Liberation Sans", sans-serif' >7.5</text>
<text x="835.1" y="698.7" font-size="29.6" text-anchor="middle" font-weight="normal" font-family='"Liberation Sans", sans-serif' >7.0</text>
<text x="970.2" y="698.7" font-size="29.6" text-anchor="middle" font-weight="normal" font-family='"Liberation Sans", sans-serif' >6.5</text>
<text transform="translate(27.9 398.5) rotate(-90)" font-size="29.4" font-family='"Liberation Sans", sans-serif'><tspan font-size="20" dy="-13">15</tspan><tspan dy="13">N (p.p.m.)</tspan></text>
<text x="473.4" y="747" font-size="29.4" font-family='"Liberation Sans", sans-serif'><tspan font-size="20" dy="-13">1</tspan><tspan dy="13">H (p.p.m.)</tspan></text>
<text x="354.0" y="295.4" font-size="31.2" text-anchor="start" font-weight="normal" font-family='"Liberation Sans", sans-serif' >D128</text>
<text x="254.0" y="354.6" font-size="31.2" text-anchor="start" font-weight="normal" font-family='"Liberation Sans", sans-serif' >L93</text>
<text x="380.0" y="349.0" font-size="31.2" text-anchor="start" font-weight="normal" font-family='"Liberation Sans", sans-serif' >Y76</text>
<text x="308.0" y="396.0" font-size="31.2" text-anchor="start" font-weight="normal" font-family='"Liberation Sans", sans-serif' >Y138</text>
<text x="378.5" y="407.4" font-size="31.2" text-anchor="start" font-weight="normal" font-family='"Liberation Sans", sans-serif' >D122</text>
<text x="580.0" y="247.0" font-size="31.2" text-anchor="start" font-weight="normal" font-family='"Liberation Sans", sans-serif' >T98</text>
<text x="644.0" y="247.0" font-size="31.2" text-anchor="start" font-weight="normal" font-family='"Liberation Sans", sans-serif' >T95</text>
<text x="684.0" y="334.7" font-size="31.2" text-anchor="start" font-weight="normal" font-family='"Liberation Sans", sans-serif' >K143</text>
<text x="589.4" y="512.5" font-size="31.2" text-anchor="start" font-weight="normal" font-family='"Liberation Sans", sans-serif' >A96</text>
<text x="150.0" y="564.2" font-size="31.2" text-anchor="start" font-weight="normal" font-family='"Liberation Sans", sans-serif' >I136</text>
<ellipse cx="1631.0" cy="40.5" rx="8.0" ry="5.0" fill="#000"/>
<ellipse cx="1736.0" cy="59.0" rx="7.0" ry="4.5" fill="#000"/>
<ellipse cx="1476.0" cy="127.2" rx="6.0" ry="4.0" fill="#000"/>
<ellipse cx="1596.2" cy="216.1" rx="5.5" ry="6.0" fill="#000"/>
<ellipse cx="1564.0" cy="220.3" rx="5.5" ry="4.0" fill="#000"/>
<ellipse cx="1643.0" cy="218.5" rx="6.0" ry="5.0" fill="#000"/>
<ellipse cx="1656.0" cy="244.6" rx="6.5" ry="4.0" fill="#000"/>
<ellipse cx="1611.0" cy="187.3" rx="5.0" ry="4.0" fill="#000"/>
<ellipse cx="1618.0" cy="203.7" rx="6.0" ry="5.0" fill="#000"/>
<ellipse cx="1651.5" cy="260.0" rx="6.0" ry="5.0" fill="#000"/>
<ellipse cx="1780.3" cy="286.9" rx="8.3" ry="5.5" fill="#000" transform="rotate(20 1780.3 286.9)"/>
<ellipse cx="1455.8" cy="279.0" rx="9.0" ry="4.0" fill="#000"/>
<ellipse cx="1504.1" cy="287.0" rx="6.0" ry="4.5" fill="#000" transform="rotate(-15 1504.1 287.0)"/>
<ellipse cx="1566.5" cy="285.5" rx="7.0" ry="5.0" fill="#000"/>
<ellipse cx="1553.4" cy="290.6" rx="6.5" ry="4.0" fill="#000"/>
<ellipse cx="1750.8" cy="157.8" rx="4.1" ry="5.5" fill="#000"/>
<ellipse cx="1732.3" cy="170.4" rx="6.4" ry="4.6" fill="#000"/>
<ellipse cx="1752.8" cy="170.9" rx="6.9" ry="4.1" fill="#000"/>
<ellipse cx="1736.9" cy="215.3" rx="6.0" ry="4.0" fill="#000"/>
<ellipse cx="1819.9" cy="109.0" rx="5.7" ry="4.7" fill="#000"/>
<ellipse cx="1819.9" cy="109.0" rx="1.5" ry="1.1" fill="#fff"/>
<ellipse cx="1925.7" cy="109.0" rx="5.7" ry="4.7" fill="#000"/>
<ellipse cx="1925.7" cy="109.0" rx="1.5" ry="1.1" fill="#fff"/>
<ellipse cx="1928.6" cy="155.8" rx="4.1" ry="5.5" fill="#000"/>
<ellipse cx="1930.1" cy="171.3" rx="6.4" ry="4.1" fill="#000"/>
<ellipse cx="1919.5" cy="215.5" rx="6.0" ry="4.0" fill="#000"/>
<ellipse cx="1877.3" cy="227.1" rx="7.0" ry="4.0" fill="#000"/>
<ellipse cx="1960.0" cy="202.7" rx="5.5" ry="4.0" fill="#000"/>
<ellipse cx="1515.0" cy="314.7" rx="6.0" ry="4.5" fill="#000"/>
<ellipse cx="1471.6" cy="309.4" rx="5.5" ry="4.5" fill="#000"/>
<ellipse cx="1329.2" cy="358.0" rx="4.0" ry="3.0" fill="#000"/>
<ellipse cx="1387.3" cy="362.7" rx="5.5" ry="4.0" fill="#000"/>
<ellipse cx="1428.8" cy="356.6" rx="4.0" ry="4.5" fill="#000"/>
<ellipse cx="1422.8" cy="372.5" rx="6.0" ry="4.5" fill="#000"/>
<ellipse cx="1469.6" cy="382.5" rx="6.5" ry="5.0" fill="#000"/>
<ellipse cx="1469.6" cy="382.5" rx="1.8" ry="1.2" fill="#fff"/>
<ellipse cx="1327.0" cy="398.0" rx="4.0" ry="4.0" fill="#000"/>
<ellipse cx="1430.4" cy="424.3" rx="5.5" ry="4.5" fill="#000"/>
<ellipse cx="1333.5" cy="457.2" rx="5.0" ry="4.5" fill="#000"/>
<ellipse cx="1356.0" cy="459.3" rx="5.0" ry="5.0" fill="#000"/>
<ellipse cx="1406.0" cy="449.0" rx="6.0" ry="5.0" fill="#000"/>
<ellipse cx="1351.5" cy="482.7" rx="6.0" ry="4.0" fill="#000"/>
<ellipse cx="1382.5" cy="479.1" rx="5.0" ry="4.0" fill="#000"/>
<ellipse cx="1455.7" cy="476.7" rx="5.5" ry="3.2" fill="#000"/>
<ellipse cx="1549.3" cy="463.1" rx="5.0" ry="4.5" fill="#000"/>
<ellipse cx="1539.5" cy="499.5" rx="5.0" ry="5.0" fill="#000"/>
<ellipse cx="1162.8" cy="501.4" rx="5.0" ry="3.5" fill="#000"/>
<ellipse cx="1211.6" cy="531.5" rx="5.0" ry="3.0" fill="#000"/>
<ellipse cx="1565.3" cy="299.8" rx="5.0" ry="4.0" fill="#000"/>
<ellipse cx="1583.0" cy="302.7" rx="6.0" ry="4.0" fill="#000"/>
<ellipse cx="1617.5" cy="322.8" rx="6.0" ry="4.0" fill="#000"/>
<ellipse cx="1725.0" cy="302.2" rx="6.5" ry="4.7" fill="#000"/>
<ellipse cx="1725.0" cy="302.2" rx="1.8" ry="1.1" fill="#fff"/>
<ellipse cx="1686.5" cy="334.2" rx="7.0" ry="5.5" fill="#000"/>
<ellipse cx="1589.6" cy="351.2" rx="6.0" ry="5.0" fill="#000"/>
<ellipse cx="1603.5" cy="340.2" rx="6.0" ry="5.0" fill="#000"/>
<ellipse cx="1623.0" cy="345.6" rx="6.5" ry="4.5" fill="#000"/>
<ellipse cx="1603.0" cy="376.0" rx="5.0" ry="4.0" fill="#000"/>
<ellipse cx="1688.2" cy="378.5" rx="5.7" ry="3.7" fill="#000"/>
<ellipse cx="1688.2" cy="378.5" rx="1.5" ry="0.9" fill="#fff"/>
<ellipse cx="1658.3" cy="398.0" rx="5.0" ry="4.0" fill="#000"/>
<ellipse cx="1629.5" cy="409.7" rx="6.0" ry="4.0" fill="#000"/>
<ellipse cx="1637.0" cy="421.7" rx="6.0" ry="5.0" fill="#000"/>
<ellipse cx="1588.5" cy="420.5" rx="5.0" ry="3.5" fill="#000"/>
<ellipse cx="1605.0" cy="478.5" rx="7.0" ry="4.5" fill="#000"/>
<ellipse cx="1583.0" cy="470.2" rx="7.0" ry="4.0" fill="#000"/>
<ellipse cx="1790.0" cy="437.5" rx="6.0" ry="4.0" fill="#000"/>
<ellipse cx="1713.1" cy="508.0" rx="5.5" ry="4.0" fill="#000"/>
<ellipse cx="1762.0" cy="510.0" rx="5.0" ry="4.5" fill="#000"/>
<ellipse cx="1594.5" cy="529.3" rx="7.0" ry="4.5" fill="#000"/>
<ellipse cx="1630.4" cy="537.8" rx="5.5" ry="4.0" fill="#000"/>
<ellipse cx="1296.7" cy="627.8" rx="5.0" ry="3.0" fill="#000"/>
<ellipse cx="1635.0" cy="38.4" rx="9.5" ry="6.0" fill="#00ff00"/>
<ellipse cx="1732.7" cy="59.8" rx="9.0" ry="5.0" fill="#00ff00"/>
<ellipse cx="1444.8" cy="106.6" rx="10.0" ry="4.5" fill="#00ff00"/>
<ellipse cx="1436.0" cy="107.3" rx="4.0" ry="2.0" fill="#00ff00"/>
<ellipse cx="1500.6" cy="105.6" rx="9.0" ry="5.5" fill="#00ff00"/>
<ellipse cx="1508.0" cy="101.0" rx="5.5" ry="3.0" fill="#00ff00" transform="rotate(-30 1508.0 101.0)"/>
<ellipse cx="1492.0" cy="113.0" rx="5.0" ry="3.5" fill="#00ff00" transform="rotate(-35 1492.0 113.0)"/>
<ellipse cx="1465.0" cy="127.5" rx="19.5" ry="3.8" fill="#00ff00" transform="rotate(-15 1465.0 127.5)"/>
<ellipse cx="1482.5" cy="122.5" rx="5.0" ry="4.0" fill="#00ff00"/>
<ellipse cx="1456.2" cy="141.4" rx="5.5" ry="4.5" fill="#00ff00"/>
<ellipse cx="1585.3" cy="216.1" rx="10.5" ry="8.5" fill="#00ff00"/>
<ellipse cx="1560.4" cy="224.1" rx="9.0" ry="6.0" fill="#00ff00"/>
<ellipse cx="1561.4" cy="240.0" rx="6.5" ry="7.0" fill="#00ff00"/>
<ellipse cx="1590.2" cy="237.5" rx="7.5" ry="4.5" fill="#00ff00"/>
<ellipse cx="1581.9" cy="248.0" rx="2.5" ry="2.0" fill="#00ff00"/>
<ellipse cx="1582.3" cy="260.4" rx="2.0" ry="2.5" fill="#00ff00"/>
<ellipse cx="1614.1" cy="190.2" rx="8.0" ry="6.0" fill="#00ff00"/>
<ellipse cx="1619.0" cy="185.0" rx="3.0" ry="4.0" fill="#00ff00"/>
<ellipse cx="1627.1" cy="202.2" rx="14.0" ry="8.0" fill="#00ff00" transform="rotate(15 1627.1 202.2)"/>
<ellipse cx="1658.0" cy="258.6" rx="9.0" ry="6.0" fill="#00ff00"/>
<ellipse cx="1668.5" cy="275.3" rx="8.5" ry="6.0" fill="#00ff00"/>
<ellipse cx="1777.3" cy="284.7" rx="9.0" ry="6.0" fill="#00ff00" transform="rotate(20 1777.3 284.7)"/>
<ellipse cx="1458.8" cy="270.0" rx="11.0" ry="7.5" fill="#00ff00"/>
<ellipse cx="1510.2" cy="266.0" rx="5.0" ry="4.5" fill="#00ff00"/>
<ellipse cx="1507.3" cy="284.3" rx="9.0" ry="6.5" fill="#00ff00" transform="rotate(-15 1507.3 284.3)"/>
<ellipse cx="1554.0" cy="265.2" rx="12.0" ry="6.0" fill="#00ff00"/>
<ellipse cx="1572.5" cy="281.2" rx="13.0" ry="6.5" fill="#00ff00"/>
<ellipse cx="1733.5" cy="156.4" rx="4.0" ry="5.0" fill="#00ff00"/>
<ellipse cx="1748.8" cy="157.8" rx="4.5" ry="6.0" fill="#00ff00"/>
<ellipse cx="1712.9" cy="166.9" rx="4.5" ry="6.0" fill="#00ff00"/>
<ellipse cx="1722.3" cy="168.3" rx="5.0" ry="6.0" fill="#00ff00"/>
<ellipse cx="1734.3" cy="168.9" rx="7.0" ry="5.0" fill="#00ff00"/>
<ellipse cx="1749.8" cy="170.9" rx="7.5" ry="4.5" fill="#00ff00"/>
<ellipse cx="1741.4" cy="176.9" rx="4.5" ry="4.0" fill="#00ff00"/>
<ellipse cx="1712.0" cy="180.3" rx="7.5" ry="6.0" fill="#00ff00"/>
<ellipse cx="1722.9" cy="182.9" rx="6.0" ry="4.5" fill="#00ff00"/>
<ellipse cx="1714.9" cy="188.2" rx="6.0" ry="4.5" fill="#00ff00"/>
<ellipse cx="1709.0" cy="196.2" rx="6.0" ry="4.5" fill="#00ff00"/>
<ellipse cx="1688.8" cy="186.7" rx="4.5" ry="5.0" fill="#00ff00"/>
<ellipse cx="1679.9" cy="195.2" rx="5.0" ry="6.0" fill="#00ff00"/>
<ellipse cx="1690.8" cy="199.2" rx="10.0" ry="4.5" fill="#00ff00"/>
<ellipse cx="1680.9" cy="209.2" rx="6.0" ry="4.5" fill="#00ff00"/>
<ellipse cx="1735.9" cy="205.2" rx="3.0" ry="5.0" fill="#00ff00"/>
<ellipse cx="1736.9" cy="219.1" rx="8.0" ry="5.5" fill="#00ff00"/>
<ellipse cx="1828.1" cy="87.6" rx="2.5" ry="3.5" fill="#00ff00"/>
<ellipse cx="1828.5" cy="100.2" rx="8.0" ry="5.5" fill="#00ff00"/>
<ellipse cx="1920.7" cy="86.7" rx="3.5" ry="5.5" fill="#00ff00"/>
<ellipse cx="1921.7" cy="100.2" rx="7.5" ry="6.0" fill="#00ff00"/>
<ellipse cx="1926.1" cy="155.8" rx="4.5" ry="6.0" fill="#00ff00"/>
<ellipse cx="1943.0" cy="155.0" rx="4.0" ry="5.0" fill="#00ff00"/>
<ellipse cx="1945.0" cy="169.3" rx="9.0" ry="4.5" fill="#00ff00"/>
<ellipse cx="1927.1" cy="171.3" rx="7.0" ry="4.5" fill="#00ff00"/>
<ellipse cx="1892.8" cy="165.3" rx="4.0" ry="6.0" fill="#00ff00"/>
<ellipse cx="1900.2" cy="167.3" rx="4.5" ry="6.0" fill="#00ff00"/>
<ellipse cx="1908.2" cy="166.9" rx="5.5" ry="6.0" fill="#00ff00"/>
<ellipse cx="1911.2" cy="176.3" rx="7.0" ry="4.5" fill="#00ff00"/>
<ellipse cx="1894.2" cy="179.7" rx="6.0" ry="4.5" fill="#00ff00"/>
<ellipse cx="1901.2" cy="182.7" rx="6.0" ry="4.0" fill="#00ff00"/>
<ellipse cx="1908.2" cy="182.3" rx="5.0" ry="4.0" fill="#00ff00"/>
<ellipse cx="1909.2" cy="188.2" rx="6.0" ry="4.5" fill="#00ff00"/>
<ellipse cx="1900.2" cy="188.2" rx="5.0" ry="4.0" fill="#00ff00"/>
<ellipse cx="1885.9" cy="193.6" rx="4.5" ry="5.5" fill="#00ff00"/>
<ellipse cx="1901.2" cy="196.2" rx="6.0" ry="4.5" fill="#00ff00"/>
<ellipse cx="1896.2" cy="200.2" rx="5.5" ry="4.0" fill="#00ff00"/>
<ellipse cx="1886.9" cy="209.2" rx="6.0" ry="4.5" fill="#00ff00"/>
<ellipse cx="1917.1" cy="204.2" rx="3.5" ry="7.0" fill="#00ff00"/>
<ellipse cx="1917.1" cy="219.7" rx="8.5" ry="5.5" fill="#00ff00"/>
<ellipse cx="1874.9" cy="222.1" rx="8.5" ry="6.0" fill="#00ff00"/>
<ellipse cx="1960.6" cy="185.7" rx="2.5" ry="3.5" fill="#00ff00"/>
<ellipse cx="1960.4" cy="199.2" rx="7.0" ry="5.0" fill="#00ff00"/>
<ellipse cx="1930.5" cy="340.5" rx="8.0" ry="5.2" fill="#00ff00"/>
<ellipse cx="1515.0" cy="306.8" rx="8.0" ry="9.0" fill="#00ff00"/>
<ellipse cx="1461.6" cy="311.8" rx="10.5" ry="5.5" fill="#00ff00" transform="rotate(-15 1461.6 311.8)"/>
<ellipse cx="1338.1" cy="353.6" rx="5.0" ry="1.5" fill="#00ff00" transform="rotate(-10 1338.1 353.6)"/>
<ellipse cx="1372.6" cy="363.9" rx="8.0" ry="5.0" fill="#00ff00"/>
<ellipse cx="1418.8" cy="357.6" rx="11.0" ry="6.0" fill="#00ff00" transform="rotate(-15 1418.8 357.6)"/>
<ellipse cx="1434.7" cy="350.6" rx="7.0" ry="5.0" fill="#00ff00"/>
<ellipse cx="1409.8" cy="375.5" rx="9.5" ry="4.5" fill="#00ff00" transform="rotate(-8 1409.8 375.5)"/>
<ellipse cx="1449.7" cy="379.5" rx="9.0" ry="5.0" fill="#00ff00"/>
<ellipse cx="1466.6" cy="360.2" rx="9.0" ry="4.5" fill="#00ff00"/>
<ellipse cx="1494.7" cy="355.5" rx="17.0" ry="6.0" fill="#00ff00" transform="rotate(-22 1494.7 355.5)"/>
<ellipse cx="1524.8" cy="381.5" rx="12.0" ry="8.0" fill="#00ff00"/>
<ellipse cx="1525.0" cy="388.0" rx="8.0" ry="5.0" fill="#00ff00"/>
<ellipse cx="1321.2" cy="401.4" rx="10.0" ry="5.5" fill="#00ff00" transform="rotate(-10 1321.2 401.4)"/>
<ellipse cx="1484.3" cy="392.8" rx="7.0" ry="5.0" fill="#00ff00"/>
<ellipse cx="1499.8" cy="404.4" rx="7.0" ry="5.0" fill="#00ff00"/>
<ellipse cx="1513.2" cy="400.4" rx="6.5" ry="4.7" fill="#00ff00"/>
<ellipse cx="1492.7" cy="413.3" rx="6.5" ry="5.0" fill="#00ff00"/>
<ellipse cx="1509.0" cy="415.3" rx="8.5" ry="7.0" fill="#00ff00"/>
<ellipse cx="1528.8" cy="410.4" rx="11.0" ry="6.0" fill="#00ff00"/>
<ellipse cx="1424.8" cy="430.3" rx="17.0" ry="8.0" fill="#00ff00"/>
<ellipse cx="1466.6" cy="431.3" rx="20.0" ry="10.0" fill="#00ff00"/>
<ellipse cx="1467.6" cy="446.2" rx="9.0" ry="6.0" fill="#00ff00"/>
<ellipse cx="1515.0" cy="428.0" rx="22.0" ry="10.0" fill="#00ff00"/>
<ellipse cx="1511.0" cy="447.8" rx="9.0" ry="5.5" fill="#00ff00"/>
<ellipse cx="1347.1" cy="457.6" rx="12.0" ry="6.5" fill="#00ff00"/>
<ellipse cx="1401.9" cy="453.2" rx="9.0" ry="7.5" fill="#00ff00" transform="rotate(-30 1401.9 453.2)"/>
<ellipse cx="1362.0" cy="469.1" rx="3.5" ry="3.0" fill="#00ff00"/>
<ellipse cx="1355.1" cy="480.1" rx="7.5" ry="6.0" fill="#00ff00"/>
<ellipse cx="1354.7" cy="490.6" rx="6.0" ry="3.5" fill="#00ff00"/>
<ellipse cx="1429.8" cy="456.2" rx="12.0" ry="6.0" fill="#00ff00" transform="rotate(15 1429.8 456.2)"/>
<ellipse cx="1442.7" cy="462.2" rx="8.0" ry="4.0" fill="#00ff00" transform="rotate(25 1442.7 462.2)"/>
<ellipse cx="1425.8" cy="472.1" rx="10.0" ry="5.0" fill="#00ff00"/>
<ellipse cx="1438.7" cy="471.1" rx="5.0" ry="4.5" fill="#00ff00"/>
<ellipse cx="1452.7" cy="476.7" rx="6.0" ry="3.5" fill="#00ff00"/>
<ellipse cx="1459.6" cy="487.0" rx="3.5" ry="3.0" fill="#00ff00"/>
<ellipse cx="1473.6" cy="487.0" rx="6.0" ry="4.5" fill="#00ff00"/>
<ellipse cx="1481.6" cy="469.1" rx="10.0" ry="6.0" fill="#00ff00" transform="rotate(-20 1481.6 469.1)"/>
<ellipse cx="1500.5" cy="464.4" rx="5.0" ry="4.5" fill="#00ff00"/>
<ellipse cx="1519.8" cy="467.1" rx="8.0" ry="5.0" fill="#00ff00"/>
<ellipse cx="1539.8" cy="466.1" rx="8.0" ry="5.0" fill="#00ff00"/>
<ellipse cx="1478.6" cy="478.1" rx="4.0" ry="4.0" fill="#00ff00"/>
<ellipse cx="1529.4" cy="474.7" rx="7.0" ry="5.0" fill="#00ff00"/>
<ellipse cx="1527.8" cy="485.1" rx="9.0" ry="7.0" fill="#00ff00"/>
<ellipse cx="1551.7" cy="489.0" rx="8.0" ry="6.0" fill="#00ff00"/>
<ellipse cx="1546.7" cy="501.0" rx="10.0" ry="8.0" fill="#00ff00"/>
<ellipse cx="1495.7" cy="501.4" rx="7.0" ry="5.0" fill="#00ff00"/>
<ellipse cx="1471.7" cy="537.8" rx="5.5" ry="4.5" fill="#00ff00"/>
<ellipse cx="1173.4" cy="506.6" rx="8.5" ry="4.5" fill="#00ff00"/>
<ellipse cx="1196.1" cy="526.9" rx="7.0" ry="3.5" fill="#00ff00"/>
<ellipse cx="1577.6" cy="299.4" rx="10.0" ry="5.5" fill="#00ff00"/>
<ellipse cx="1604.5" cy="303.8" rx="15.0" ry="7.5" fill="#00ff00" transform="rotate(-15 1604.5 303.8)"/>
<ellipse cx="1555.3" cy="309.4" rx="4.5" ry="4.0" fill="#00ff00"/>
<ellipse cx="1564.7" cy="313.7" rx="8.0" ry="6.0" fill="#00ff00"/>
<ellipse cx="1614.5" cy="326.7" rx="8.5" ry="6.5" fill="#00ff00"/>
<ellipse cx="1701.1" cy="306.2" rx="8.0" ry="5.0" fill="#00ff00"/>
<ellipse cx="1688.8" cy="331.3" rx="8.5" ry="7.0" fill="#00ff00" transform="rotate(-20 1688.8 331.3)"/>
<ellipse cx="1579.6" cy="344.6" rx="13.0" ry="9.5" fill="#00ff00"/>
<ellipse cx="1633.0" cy="352.2" rx="8.5" ry="6.0" fill="#00ff00"/>
<ellipse cx="1630.4" cy="369.5" rx="9.0" ry="7.0" fill="#00ff00"/>
<ellipse cx="1637.0" cy="365.0" rx="6.0" ry="4.0" fill="#00ff00"/>
<ellipse cx="1597.5" cy="371.9" rx="10.0" ry="6.5" fill="#00ff00"/>
<ellipse cx="1670.2" cy="397.8" rx="12.0" ry="5.0" fill="#00ff00"/>
<ellipse cx="1632.4" cy="404.4" rx="8.5" ry="6.5" fill="#00ff00"/>
<ellipse cx="1653.3" cy="411.0" rx="18.0" ry="6.0" fill="#00ff00" transform="rotate(-12 1653.3 411.0)"/>
<ellipse cx="1631.4" cy="421.3" rx="10.0" ry="6.0" fill="#00ff00"/>
<ellipse cx="1597.5" cy="415.3" rx="11.0" ry="8.0" fill="#00ff00"/>
<ellipse cx="1599.1" cy="406.0" rx="3.0" ry="3.5" fill="#00ff00"/>
<ellipse cx="1549.7" cy="426.3" rx="5.0" ry="5.0" fill="#00ff00"/>
<ellipse cx="1559.7" cy="435.3" rx="9.0" ry="6.0" fill="#00ff00"/>
<ellipse cx="1577.6" cy="427.9" rx="8.0" ry="6.0" fill="#00ff00"/>
<ellipse cx="1552.0" cy="430.0" rx="6.0" ry="4.0" fill="#00ff00" transform="rotate(40 1552.0 430.0)"/>
<ellipse cx="1568.0" cy="431.0" rx="6.0" ry="4.0" fill="#00ff00" transform="rotate(-40 1568.0 431.0)"/>
<ellipse cx="1572.6" cy="442.8" rx="8.0" ry="5.0" fill="#00ff00"/>
<ellipse cx="1591.0" cy="445.2" rx="7.0" ry="5.5" fill="#00ff00"/>
<ellipse cx="1589.6" cy="468.1" rx="12.0" ry="6.0" fill="#00ff00"/>
<ellipse cx="1601.5" cy="476.1" rx="9.0" ry="5.5" fill="#00ff00"/>
<ellipse cx="1794.7" cy="435.7" rx="10.0" ry="5.0" fill="#00ff00"/>
<ellipse cx="1767.8" cy="482.7" rx="9.5" ry="6.5" fill="#00ff00"/>
<ellipse cx="1725.4" cy="505.4" rx="9.0" ry="5.5" fill="#00ff00"/>
<ellipse cx="1751.9" cy="511.4" rx="11.0" ry="5.5" fill="#00ff00"/>
<ellipse cx="1587.6" cy="518.9" rx="11.5" ry="6.5" fill="#00ff00"/>
<ellipse cx="1641.0" cy="533.9" rx="9.0" ry="5.0" fill="#00ff00" transform="rotate(-15 1641.0 533.9)"/>
<ellipse cx="1294.5" cy="622.4" rx="8.0" ry="4.0" fill="#00ff00"/>
<ellipse cx="1543.5" cy="560.6" rx="10.0" ry="4.5" fill="#00ff00"/>
<ellipse cx="1515.3" cy="579.4" rx="3.5" ry="3.0" fill="#00ff00"/>
<ellipse cx="1563.0" cy="547.0" rx="1.0" ry="2.5" fill="#00ff00"/>
<ellipse cx="1444.8" cy="106.6" rx="1.6" ry="1.0" fill="#000"/>
<ellipse cx="1500.6" cy="105.6" rx="1.6" ry="1.0" fill="#000"/>
<ellipse cx="1561.4" cy="240.0" rx="1.6" ry="1.0" fill="#000"/>
<ellipse cx="1590.2" cy="237.5" rx="1.6" ry="1.0" fill="#000"/>
<ellipse cx="1749.8" cy="170.9" rx="1.6" ry="1.0" fill="#000"/>
<ellipse cx="1722.9" cy="182.9" rx="1.6" ry="1.0" fill="#000"/>
<ellipse cx="1714.9" cy="188.2" rx="1.6" ry="1.0" fill="#000"/>
<ellipse cx="1709.0" cy="196.2" rx="1.6" ry="1.0" fill="#000"/>
<ellipse cx="1680.9" cy="209.2" rx="1.6" ry="1.0" fill="#000"/>
<ellipse cx="1927.1" cy="171.3" rx="1.6" ry="1.0" fill="#000"/>
<ellipse cx="1901.2" cy="182.7" rx="1.6" ry="1.0" fill="#000"/>
<ellipse cx="1908.2" cy="182.3" rx="1.6" ry="1.0" fill="#000"/>
<ellipse cx="1909.2" cy="188.2" rx="1.6" ry="1.0" fill="#000"/>
<ellipse cx="1901.2" cy="196.2" rx="1.6" ry="1.0" fill="#000"/>
<ellipse cx="1886.9" cy="209.2" rx="1.6" ry="1.0" fill="#000"/>
<ellipse cx="1466.6" cy="360.2" rx="1.6" ry="1.0" fill="#000"/>
<ellipse cx="1484.3" cy="392.8" rx="1.6" ry="1.0" fill="#000"/>
<ellipse cx="1499.8" cy="404.4" rx="1.6" ry="1.0" fill="#000"/>
<ellipse cx="1492.7" cy="413.3" rx="1.6" ry="1.0" fill="#000"/>
<ellipse cx="1425.8" cy="472.1" rx="1.6" ry="1.0" fill="#000"/>
<ellipse cx="1473.6" cy="487.0" rx="1.6" ry="1.0" fill="#000"/>
<ellipse cx="1481.6" cy="469.1" rx="1.6" ry="1.0" fill="#000"/>
<ellipse cx="1519.8" cy="467.1" rx="1.6" ry="1.0" fill="#000"/>
<ellipse cx="1529.4" cy="474.7" rx="1.6" ry="1.0" fill="#000"/>
<ellipse cx="1495.7" cy="501.4" rx="1.6" ry="1.0" fill="#000"/>
<ellipse cx="1564.7" cy="313.7" rx="1.6" ry="1.0" fill="#000"/>
<ellipse cx="1630.4" cy="369.5" rx="1.6" ry="1.0" fill="#000"/>
<ellipse cx="1632.4" cy="404.4" rx="1.6" ry="1.0" fill="#000"/>
<ellipse cx="1559.7" cy="435.3" rx="1.6" ry="1.0" fill="#000"/>
<ellipse cx="1577.6" cy="427.9" rx="1.6" ry="1.0" fill="#000"/>
<ellipse cx="1572.6" cy="442.8" rx="1.6" ry="1.0" fill="#000"/>
<ellipse cx="1591.0" cy="445.2" rx="1.6" ry="1.0" fill="#000"/>
<rect x="1140.8" y="10.3" width="850.7" height="649.1" fill="none" stroke="#000" stroke-width="4.8"/>
<line x1="1155.4" y1="5.9" x2="1155.4" y2="8.3" stroke="#444" stroke-width="1.1" />
<line x1="1155.4" y1="661.4" x2="1155.4" y2="663.8" stroke="#444" stroke-width="1.1" />
<line x1="1182.3" y1="4.1" x2="1182.3" y2="8.3" stroke="#000" stroke-width="2.6" />
<line x1="1182.3" y1="661.4" x2="1182.3" y2="665.2" stroke="#000" stroke-width="2.6" />
<line x1="1209.2" y1="5.9" x2="1209.2" y2="8.3" stroke="#444" stroke-width="1.1" />
<line x1="1209.2" y1="661.4" x2="1209.2" y2="663.8" stroke="#444" stroke-width="1.1" />
<line x1="1236.2" y1="5.9" x2="1236.2" y2="8.3" stroke="#444" stroke-width="1.1" />
<line x1="1236.2" y1="661.4" x2="1236.2" y2="663.8" stroke="#444" stroke-width="1.1" />
<line x1="1263.2" y1="5.9" x2="1263.2" y2="8.3" stroke="#444" stroke-width="1.1" />
<line x1="1263.2" y1="661.4" x2="1263.2" y2="663.8" stroke="#444" stroke-width="1.1" />
<line x1="1290.1" y1="5.9" x2="1290.1" y2="8.3" stroke="#444" stroke-width="1.1" />
<line x1="1290.1" y1="661.4" x2="1290.1" y2="663.8" stroke="#444" stroke-width="1.1" />
<line x1="1317.0" y1="4.1" x2="1317.0" y2="8.3" stroke="#000" stroke-width="2.6" />
<line x1="1317.0" y1="661.4" x2="1317.0" y2="665.2" stroke="#000" stroke-width="2.6" />
<line x1="1344.0" y1="5.9" x2="1344.0" y2="8.3" stroke="#444" stroke-width="1.1" />
<line x1="1344.0" y1="661.4" x2="1344.0" y2="663.8" stroke="#444" stroke-width="1.1" />
<line x1="1371.0" y1="5.9" x2="1371.0" y2="8.3" stroke="#444" stroke-width="1.1" />
<line x1="1371.0" y1="661.4" x2="1371.0" y2="663.8" stroke="#444" stroke-width="1.1" />
<line x1="1397.9" y1="5.9" x2="1397.9" y2="8.3" stroke="#444" stroke-width="1.1" />
<line x1="1397.9" y1="661.4" x2="1397.9" y2="663.8" stroke="#444" stroke-width="1.1" />
<line x1="1424.9" y1="5.9" x2="1424.9" y2="8.3" stroke="#444" stroke-width="1.1" />
<line x1="1424.9" y1="661.4" x2="1424.9" y2="663.8" stroke="#444" stroke-width="1.1" />
<line x1="1451.8" y1="4.1" x2="1451.8" y2="8.3" stroke="#000" stroke-width="2.6" />
<line x1="1451.8" y1="661.4" x2="1451.8" y2="665.2" stroke="#000" stroke-width="2.6" />
<line x1="1478.8" y1="5.9" x2="1478.8" y2="8.3" stroke="#444" stroke-width="1.1" />
<line x1="1478.8" y1="661.4" x2="1478.8" y2="663.8" stroke="#444" stroke-width="1.1" />
<line x1="1505.7" y1="5.9" x2="1505.7" y2="8.3" stroke="#444" stroke-width="1.1" />
<line x1="1505.7" y1="661.4" x2="1505.7" y2="663.8" stroke="#444" stroke-width="1.1" />
<line x1="1532.7" y1="5.9" x2="1532.7" y2="8.3" stroke="#444" stroke-width="1.1" />
<line x1="1532.7" y1="661.4" x2="1532.7" y2="663.8" stroke="#444" stroke-width="1.1" />
<line x1="1559.6" y1="5.9" x2="1559.6" y2="8.3" stroke="#444" stroke-width="1.1" />
<line x1="1559.6" y1="661.4" x2="1559.6" y2="663.8" stroke="#444" stroke-width="1.1" />
<line x1="1586.5" y1="4.1" x2="1586.5" y2="8.3" stroke="#000" stroke-width="2.6" />
<line x1="1586.5" y1="661.4" x2="1586.5" y2="665.2" stroke="#000" stroke-width="2.6" />
<line x1="1613.5" y1="5.9" x2="1613.5" y2="8.3" stroke="#444" stroke-width="1.1" />
<line x1="1613.5" y1="661.4" x2="1613.5" y2="663.8" stroke="#444" stroke-width="1.1" />
<line x1="1640.5" y1="5.9" x2="1640.5" y2="8.3" stroke="#444" stroke-width="1.1" />
<line x1="1640.5" y1="661.4" x2="1640.5" y2="663.8" stroke="#444" stroke-width="1.1" />
<line x1="1667.4" y1="5.9" x2="1667.4" y2="8.3" stroke="#444" stroke-width="1.1" />
<line x1="1667.4" y1="661.4" x2="1667.4" y2="663.8" stroke="#444" stroke-width="1.1" />
<line x1="1694.3" y1="5.9" x2="1694.3" y2="8.3" stroke="#444" stroke-width="1.1" />
<line x1="1694.3" y1="661.4" x2="1694.3" y2="663.8" stroke="#444" stroke-width="1.1" />
<line x1="1721.3" y1="4.1" x2="1721.3" y2="8.3" stroke="#000" stroke-width="2.6" />
<line x1="1721.3" y1="661.4" x2="1721.3" y2="665.2" stroke="#000" stroke-width="2.6" />
<line x1="1748.2" y1="5.9" x2="1748.2" y2="8.3" stroke="#444" stroke-width="1.1" />
<line x1="1748.2" y1="661.4" x2="1748.2" y2="663.8" stroke="#444" stroke-width="1.1" />
<line x1="1775.2" y1="5.9" x2="1775.2" y2="8.3" stroke="#444" stroke-width="1.1" />
<line x1="1775.2" y1="661.4" x2="1775.2" y2="663.8" stroke="#444" stroke-width="1.1" />
<line x1="1802.2" y1="5.9" x2="1802.2" y2="8.3" stroke="#444" stroke-width="1.1" />
<line x1="1802.2" y1="661.4" x2="1802.2" y2="663.8" stroke="#444" stroke-width="1.1" />
<line x1="1829.1" y1="5.9" x2="1829.1" y2="8.3" stroke="#444" stroke-width="1.1" />
<line x1="1829.1" y1="661.4" x2="1829.1" y2="663.8" stroke="#444" stroke-width="1.1" />
<line x1="1856.0" y1="4.1" x2="1856.0" y2="8.3" stroke="#000" stroke-width="2.6" />
<line x1="1856.0" y1="661.4" x2="1856.0" y2="665.2" stroke="#000" stroke-width="2.6" />
<line x1="1883.0" y1="5.9" x2="1883.0" y2="8.3" stroke="#444" stroke-width="1.1" />
<line x1="1883.0" y1="661.4" x2="1883.0" y2="663.8" stroke="#444" stroke-width="1.1" />
<line x1="1910.0" y1="5.9" x2="1910.0" y2="8.3" stroke="#444" stroke-width="1.1" />
<line x1="1910.0" y1="661.4" x2="1910.0" y2="663.8" stroke="#444" stroke-width="1.1" />
<line x1="1936.9" y1="5.9" x2="1936.9" y2="8.3" stroke="#444" stroke-width="1.1" />
<line x1="1936.9" y1="661.4" x2="1936.9" y2="663.8" stroke="#444" stroke-width="1.1" />
<line x1="1963.8" y1="5.9" x2="1963.8" y2="8.3" stroke="#444" stroke-width="1.1" />
<line x1="1963.8" y1="661.4" x2="1963.8" y2="663.8" stroke="#444" stroke-width="1.1" />
<line x1="1136.2" y1="37.5" x2="1138.8" y2="37.5" stroke="#444" stroke-width="1.1" />
<line x1="1993.5" y1="37.5" x2="1996.1" y2="37.5" stroke="#444" stroke-width="1.1" />
<line x1="1136.2" y1="64.6" x2="1138.8" y2="64.6" stroke="#444" stroke-width="1.1" />
<line x1="1993.5" y1="64.6" x2="1996.1" y2="64.6" stroke="#444" stroke-width="1.1" />
<line x1="1136.2" y1="91.6" x2="1138.8" y2="91.6" stroke="#444" stroke-width="1.1" />
<line x1="1993.5" y1="91.6" x2="1996.1" y2="91.6" stroke="#444" stroke-width="1.1" />
<line x1="1134.4" y1="118.6" x2="1138.8" y2="118.6" stroke="#000" stroke-width="2.6" />
<line x1="1993.5" y1="118.6" x2="1997.5" y2="118.6" stroke="#000" stroke-width="2.6" />
<line x1="1136.2" y1="145.6" x2="1138.8" y2="145.6" stroke="#444" stroke-width="1.1" />
<line x1="1993.5" y1="145.6" x2="1996.1" y2="145.6" stroke="#444" stroke-width="1.1" />
<line x1="1136.2" y1="172.6" x2="1138.8" y2="172.6" stroke="#444" stroke-width="1.1" />
<line x1="1993.5" y1="172.6" x2="1996.1" y2="172.6" stroke="#444" stroke-width="1.1" />
<line x1="1136.2" y1="199.7" x2="1138.8" y2="199.7" stroke="#444" stroke-width="1.1" />
<line x1="1993.5" y1="199.7" x2="1996.1" y2="199.7" stroke="#444" stroke-width="1.1" />
<line x1="1136.2" y1="226.7" x2="1138.8" y2="226.7" stroke="#444" stroke-width="1.1" />
<line x1="1993.5" y1="226.7" x2="1996.1" y2="226.7" stroke="#444" stroke-width="1.1" />
<line x1="1134.4" y1="253.7" x2="1138.8" y2="253.7" stroke="#000" stroke-width="2.6" />
<line x1="1993.5" y1="253.7" x2="1997.5" y2="253.7" stroke="#000" stroke-width="2.6" />
<line x1="1136.2" y1="280.7" x2="1138.8" y2="280.7" stroke="#444" stroke-width="1.1" />
<line x1="1993.5" y1="280.7" x2="1996.1" y2="280.7" stroke="#444" stroke-width="1.1" />
<line x1="1136.2" y1="307.7" x2="1138.8" y2="307.7" stroke="#444" stroke-width="1.1" />
<line x1="1993.5" y1="307.7" x2="1996.1" y2="307.7" stroke="#444" stroke-width="1.1" />
<line x1="1136.2" y1="334.8" x2="1138.8" y2="334.8" stroke="#444" stroke-width="1.1" />
<line x1="1993.5" y1="334.8" x2="1996.1" y2="334.8" stroke="#444" stroke-width="1.1" />
<line x1="1136.2" y1="361.8" x2="1138.8" y2="361.8" stroke="#444" stroke-width="1.1" />
<line x1="1993.5" y1="361.8" x2="1996.1" y2="361.8" stroke="#444" stroke-width="1.1" />
<line x1="1134.4" y1="388.8" x2="1138.8" y2="388.8" stroke="#000" stroke-width="2.6" />
<line x1="1993.5" y1="388.8" x2="1997.5" y2="388.8" stroke="#000" stroke-width="2.6" />
<line x1="1136.2" y1="415.8" x2="1138.8" y2="415.8" stroke="#444" stroke-width="1.1" />
<line x1="1993.5" y1="415.8" x2="1996.1" y2="415.8" stroke="#444" stroke-width="1.1" />
<line x1="1136.2" y1="442.8" x2="1138.8" y2="442.8" stroke="#444" stroke-width="1.1" />
<line x1="1993.5" y1="442.8" x2="1996.1" y2="442.8" stroke="#444" stroke-width="1.1" />
<line x1="1136.2" y1="469.9" x2="1138.8" y2="469.9" stroke="#444" stroke-width="1.1" />
<line x1="1993.5" y1="469.9" x2="1996.1" y2="469.9" stroke="#444" stroke-width="1.1" />
<line x1="1136.2" y1="496.9" x2="1138.8" y2="496.9" stroke="#444" stroke-width="1.1" />
<line x1="1993.5" y1="496.9" x2="1996.1" y2="496.9" stroke="#444" stroke-width="1.1" />
<line x1="1134.4" y1="523.9" x2="1138.8" y2="523.9" stroke="#000" stroke-width="2.6" />
<line x1="1993.5" y1="523.9" x2="1997.5" y2="523.9" stroke="#000" stroke-width="2.6" />
<line x1="1136.2" y1="550.9" x2="1138.8" y2="550.9" stroke="#444" stroke-width="1.1" />
<line x1="1993.5" y1="550.9" x2="1996.1" y2="550.9" stroke="#444" stroke-width="1.1" />
<line x1="1136.2" y1="577.9" x2="1138.8" y2="577.9" stroke="#444" stroke-width="1.1" />
<line x1="1993.5" y1="577.9" x2="1996.1" y2="577.9" stroke="#444" stroke-width="1.1" />
<line x1="1136.2" y1="605.0" x2="1138.8" y2="605.0" stroke="#444" stroke-width="1.1" />
<line x1="1993.5" y1="605.0" x2="1996.1" y2="605.0" stroke="#444" stroke-width="1.1" />
<line x1="1136.2" y1="632.0" x2="1138.8" y2="632.0" stroke="#444" stroke-width="1.1" />
<line x1="1993.5" y1="632.0" x2="1996.1" y2="632.0" stroke="#444" stroke-width="1.1" />
<line x1="1134.4" y1="659.0" x2="1138.8" y2="659.0" stroke="#000" stroke-width="2.6" />
<line x1="1993.5" y1="659.0" x2="1997.5" y2="659.0" stroke="#000" stroke-width="2.6" />
<text x="1122.8" y="128.7" font-size="29.8" text-anchor="end" font-weight="normal" font-family='"Liberation Sans", sans-serif' >110</text>
<text x="1122.8" y="263.5" font-size="29.8" text-anchor="end" font-weight="normal" font-family='"Liberation Sans", sans-serif' >115</text>
<text x="1122.8" y="398.3" font-size="29.8" text-anchor="end" font-weight="normal" font-family='"Liberation Sans", sans-serif' >120</text>
<text x="1122.8" y="533.1" font-size="29.8" text-anchor="end" font-weight="normal" font-family='"Liberation Sans", sans-serif' >125</text>
<text x="1122.8" y="667.9" font-size="29.8" text-anchor="end" font-weight="normal" font-family='"Liberation Sans", sans-serif' >130</text>
<text x="1182.3" y="698.7" font-size="29.6" text-anchor="middle" font-weight="normal" font-family='"Liberation Sans", sans-serif' >9.5</text>
<text x="1317.0" y="698.7" font-size="29.6" text-anchor="middle" font-weight="normal" font-family='"Liberation Sans", sans-serif' >9.0</text>
<text x="1451.8" y="698.7" font-size="29.6" text-anchor="middle" font-weight="normal" font-family='"Liberation Sans", sans-serif' >8.5</text>
<text x="1586.5" y="698.7" font-size="29.6" text-anchor="middle" font-weight="normal" font-family='"Liberation Sans", sans-serif' >8.0</text>
<text x="1721.3" y="698.7" font-size="29.6" text-anchor="middle" font-weight="normal" font-family='"Liberation Sans", sans-serif' >7.5</text>
<text x="1856.0" y="698.7" font-size="29.6" text-anchor="middle" font-weight="normal" font-family='"Liberation Sans", sans-serif' >7.0</text>
<text x="1990.8" y="698.7" font-size="29.6" text-anchor="middle" font-weight="normal" font-family='"Liberation Sans", sans-serif' >6.5</text>
<text transform="translate(1050.5 398.5) rotate(-90)" font-size="29.4" font-family='"Liberation Sans", sans-serif'><tspan font-size="20" dy="-13">15</tspan><tspan dy="13">N (p.p.m.)</tspan></text>
<text x="1496.0" y="747" font-size="29.4" font-family='"Liberation Sans", sans-serif'><tspan font-size="20" dy="-13">1</tspan><tspan dy="13">H (p.p.m.)</tspan></text>
<text x="1373.0" y="293.8" font-size="31.2" text-anchor="start" font-weight="normal" font-family='"Liberation Sans", sans-serif' >D128</text>
<text x="1271.0" y="369.5" font-size="31.2" text-anchor="start" font-weight="normal" font-family='"Liberation Sans", sans-serif' >L93</text>
<text x="1401.0" y="353.6" font-size="31.2" text-anchor="start" font-weight="normal" font-family='"Liberation Sans", sans-serif' >Y76</text>
<text x="1334.0" y="398.4" font-size="31.2" text-anchor="start" font-weight="normal" font-family='"Liberation Sans", sans-serif' >Y138</text>
<text x="1405.0" y="415.3" font-size="31.2" text-anchor="start" font-weight="normal" font-family='"Liberation Sans", sans-serif' >D122</text>
<text x="1601.0" y="242.6" font-size="31.2" text-anchor="start" font-weight="normal" font-family='"Liberation Sans", sans-serif' >T98</text>
<text x="1665.0" y="253.0" font-size="31.2" text-anchor="start" font-weight="normal" font-family='"Liberation Sans", sans-serif' >T95</text>
<text x="1705.0" y="333.7" font-size="31.2" text-anchor="start" font-weight="normal" font-family='"Liberation Sans", sans-serif' >K143</text>
<text x="1572.0" y="560.6" font-size="31.2" text-anchor="start" font-weight="normal" font-family='"Liberation Sans", sans-serif' >A96</text>
<text x="1171.5" y="562.8" font-size="31.2" text-anchor="start" font-weight="normal" font-family='"Liberation Sans", sans-serif' >I136</text>
<rect x="156.6" y="1086.2" width="8.2" height="9.8" fill="#ff0000"/>
<rect x="167.0" y="1091.2" width="8.2" height="4.8" fill="#ff0000"/>
<rect x="271.1" y="1088.2" width="8.2" height="7.8" fill="#ff0000"/>
<rect x="281.5" y="1045.0" width="8.2" height="51.0" fill="#ff0000"/>
<rect x="292.0" y="1090.2" width="8.2" height="5.8" fill="#ff0000"/>
<rect x="344.0" y="1061.3" width="8.2" height="34.7" fill="#ff0000"/>
<rect x="354.4" y="1078.0" width="8.2" height="18.0" fill="#ff0000"/>
<rect x="364.8" y="1091.2" width="8.2" height="4.8" fill="#ff0000"/>
<rect x="385.7" y="1092.0" width="8.2" height="4.0" fill="#ff0000"/>
<rect x="396.1" y="1092.0" width="8.2" height="4.0" fill="#ff0000"/>
<rect x="448.1" y="1088.2" width="8.2" height="7.8" fill="#ff0000"/>
<rect x="458.5" y="1087.4" width="8.2" height="8.6" fill="#ff0000"/>
<rect x="469.0" y="1087.6" width="8.2" height="8.4" fill="#ff0000"/>
<rect x="479.4" y="1085.8" width="8.2" height="10.2" fill="#ff0000"/>
<rect x="489.8" y="1082.0" width="8.2" height="14.0" fill="#ff0000"/>
<rect x="510.6" y="1051.7" width="8.2" height="44.3" fill="#ff0000"/>
<rect x="521.0" y="1090.3" width="8.2" height="5.7" fill="#ff0000"/>
<rect x="531.4" y="1056.5" width="8.2" height="39.5" fill="#ff0000"/>
<rect x="541.8" y="1060.3" width="8.2" height="35.7" fill="#ff0000"/>
<rect x="552.3" y="1082.2" width="8.2" height="13.8" fill="#ff0000"/>
<rect x="583.5" y="1093.4" width="8.2" height="2.6" fill="#ff0000"/>
<rect x="614.7" y="1077.2" width="8.2" height="18.8" fill="#ff0000"/>
<rect x="625.1" y="1033.4" width="8.2" height="62.6" fill="#ff0000"/>
<rect x="635.6" y="1055.1" width="8.2" height="40.9" fill="#ff0000"/>
<rect x="646.0" y="1057.5" width="8.2" height="38.5" fill="#ff0000"/>
<rect x="656.4" y="1028.0" width="8.2" height="68.0" fill="#ff0000"/>
<rect x="666.8" y="1090.3" width="8.2" height="5.7" fill="#ff0000"/>
<rect x="677.2" y="1048.7" width="8.2" height="47.3" fill="#ff0000"/>
<rect x="687.6" y="1078.2" width="8.2" height="17.8" fill="#ff0000"/>
<rect x="698.0" y="1050.3" width="8.2" height="45.7" fill="#ff0000"/>
<rect x="708.4" y="1074.8" width="8.2" height="21.2" fill="#ff0000"/>
<rect x="718.8" y="1086.0" width="8.2" height="10.0" fill="#ff0000"/>
<rect x="729.3" y="1085.2" width="8.2" height="10.8" fill="#ff0000"/>
<rect x="739.7" y="1053.7" width="8.2" height="42.3" fill="#ff0000"/>
<rect x="750.1" y="1076.4" width="8.2" height="19.6" fill="#ff0000"/>
<rect x="760.5" y="1065.1" width="8.2" height="30.9" fill="#ff0000"/>
<rect x="770.9" y="1080.4" width="8.2" height="15.6" fill="#ff0000"/>
<rect x="781.3" y="1007.7" width="8.2" height="88.3" fill="#ff0000"/>
<rect x="791.7" y="1022.7" width="8.2" height="73.3" fill="#ff0000"/>
<rect x="802.1" y="982.7" width="8.2" height="113.3" fill="#ff0000"/>
<rect x="812.6" y="927.1" width="8.2" height="168.9" fill="#ff0000"/>
<rect x="823.0" y="948.2" width="8.2" height="147.8" fill="#ff0000"/>
<rect x="833.4" y="998.4" width="8.2" height="97.6" fill="#ff0000"/>
<rect x="843.8" y="1012.5" width="8.2" height="83.5" fill="#ff0000"/>
<rect x="854.2" y="1075.6" width="8.2" height="20.4" fill="#ff0000"/>
<rect x="864.6" y="947.6" width="8.2" height="148.4" fill="#ff0000"/>
<rect x="885.4" y="1024.5" width="8.2" height="71.5" fill="#ff0000"/>
<rect x="895.9" y="1083.8" width="8.2" height="12.2" fill="#ff0000"/>
<rect x="906.3" y="1077.2" width="8.2" height="18.8" fill="#ff0000"/>
<rect x="927.1" y="1083.2" width="8.2" height="12.8" fill="#ff0000"/>
<rect x="958.3" y="1089.7" width="8.2" height="6.3" fill="#ff0000"/>
<rect x="968.7" y="1070.2" width="8.2" height="25.8" fill="#ff0000"/>
<rect x="979.1" y="1066.2" width="8.2" height="29.8" fill="#ff0000"/>
<rect x="1000.0" y="1072.4" width="8.2" height="23.6" fill="#ff0000"/>
<rect x="1010.4" y="1081.6" width="8.2" height="14.4" fill="#ff0000"/>
<rect x="1020.8" y="1059.5" width="8.2" height="36.5" fill="#ff0000"/>
<rect x="1041.6" y="1049.3" width="8.2" height="46.7" fill="#ff0000"/>
<rect x="1052.0" y="1073.8" width="8.2" height="22.2" fill="#ff0000"/>
<rect x="1062.4" y="1076.0" width="8.2" height="20.0" fill="#ff0000"/>
<rect x="1072.9" y="1067.6" width="8.2" height="28.4" fill="#ff0000"/>
<rect x="1083.3" y="1066.2" width="8.2" height="29.8" fill="#ff0000"/>
<rect x="1093.7" y="980.7" width="8.2" height="115.3" fill="#ff0000"/>
<rect x="1104.1" y="1081.6" width="8.2" height="14.4" fill="#ff0000"/>
<rect x="1114.5" y="1011.7" width="8.2" height="84.3" fill="#ff0000"/>
<rect x="1124.9" y="1086.0" width="8.2" height="10.0" fill="#ff0000"/>
<rect x="1135.3" y="1072.2" width="8.2" height="23.8" fill="#ff0000"/>
<rect x="1145.7" y="1057.5" width="8.2" height="38.5" fill="#ff0000"/>
<rect x="1156.2" y="970.9" width="8.2" height="125.1" fill="#ff0000"/>
<rect x="1166.6" y="1049.7" width="8.2" height="46.3" fill="#ff0000"/>
<rect x="1177.0" y="1008.7" width="8.2" height="87.3" fill="#ff0000"/>
<rect x="1197.8" y="1035.4" width="8.2" height="60.6" fill="#ff0000"/>
<rect x="1208.2" y="1076.2" width="8.2" height="19.8" fill="#ff0000"/>
<rect x="1218.6" y="1081.6" width="8.2" height="14.4" fill="#ff0000"/>
<rect x="1229.0" y="1061.1" width="8.2" height="34.9" fill="#ff0000"/>
<rect x="1239.4" y="1068.6" width="8.2" height="27.4" fill="#ff0000"/>
<rect x="1249.9" y="1053.3" width="8.2" height="42.7" fill="#ff0000"/>
<rect x="1260.3" y="1022.5" width="8.2" height="73.5" fill="#ff0000"/>
<rect x="1270.7" y="1063.5" width="8.2" height="32.5" fill="#ff0000"/>
<rect x="1281.1" y="1044.8" width="8.2" height="51.2" fill="#ff0000"/>
<rect x="1291.5" y="1077.2" width="8.2" height="18.8" fill="#ff0000"/>
<rect x="1301.9" y="1060.3" width="8.2" height="35.7" fill="#ff0000"/>
<rect x="1312.3" y="1024.3" width="8.2" height="71.7" fill="#ff0000"/>
<rect x="1322.7" y="1040.4" width="8.2" height="55.6" fill="#ff0000"/>
<rect x="1333.2" y="1015.3" width="8.2" height="80.7" fill="#ff0000"/>
<rect x="1343.6" y="1000.2" width="8.2" height="95.8" fill="#ff0000"/>
<rect x="1354.0" y="1055.1" width="8.2" height="40.9" fill="#ff0000"/>
<rect x="1364.4" y="1049.1" width="8.2" height="46.9" fill="#ff0000"/>
<line x1="155.2" y1="898.2" x2="155.2" y2="1101.0" stroke="#000" stroke-width="5.1" />
<line x1="144.1" y1="1096.0" x2="1373.6" y2="1096.0" stroke="#000" stroke-width="5.2" />
<line x1="144.1" y1="1046.5" x2="155.2" y2="1046.5" stroke="#000" stroke-width="5.2" />
<line x1="144.1" y1="997.1" x2="155.2" y2="997.1" stroke="#000" stroke-width="5.2" />
<line x1="144.1" y1="947.7" x2="155.2" y2="947.7" stroke="#000" stroke-width="5.2" />
<line x1="144.1" y1="898.2" x2="155.2" y2="898.2" stroke="#000" stroke-width="5.2" />
<line x1="155.2" y1="1096.0" x2="155.2" y2="1101.0" stroke="#000" stroke-width="5.2" />
<line x1="259.4" y1="1096.0" x2="259.4" y2="1101.0" stroke="#000" stroke-width="5.2" />
<line x1="363.4" y1="1096.0" x2="363.4" y2="1101.0" stroke="#000" stroke-width="5.2" />
<line x1="467.6" y1="1096.0" x2="467.6" y2="1101.0" stroke="#000" stroke-width="5.2" />
<line x1="571.6" y1="1096.0" x2="571.6" y2="1101.0" stroke="#000" stroke-width="5.2" />
<line x1="675.8" y1="1096.0" x2="675.8" y2="1101.0" stroke="#000" stroke-width="5.2" />
<line x1="779.9" y1="1096.0" x2="779.9" y2="1101.0" stroke="#000" stroke-width="5.2" />
<line x1="884.0" y1="1096.0" x2="884.0" y2="1101.0" stroke="#000" stroke-width="5.2" />
<line x1="988.0" y1="1096.0" x2="988.0" y2="1101.0" stroke="#000" stroke-width="5.2" />
<line x1="1092.2" y1="1096.0" x2="1092.2" y2="1101.0" stroke="#000" stroke-width="5.2" />
<line x1="1196.2" y1="1096.0" x2="1196.2" y2="1101.0" stroke="#000" stroke-width="5.2" />
<line x1="1300.3" y1="1096.0" x2="1300.3" y2="1101.0" stroke="#000" stroke-width="5.2" />
<text x="132.4" y="907.4" font-size="29.4" text-anchor="end" font-weight="normal" font-family='"Liberation Sans", sans-serif' >0.24</text>
<text x="132.4" y="1006.3" font-size="29.4" text-anchor="end" font-weight="normal" font-family='"Liberation Sans", sans-serif' >0.12</text>
<text x="132.4" y="1105.2" font-size="29.4" text-anchor="end" font-weight="normal" font-family='"Liberation Sans", sans-serif' >0</text>
<text x="179.8" y="1099.1" font-size="26.5" text-anchor="middle" font-weight="normal" font-family='"Liberation Sans", sans-serif' >*</text>
<text x="189.8" y="1099.1" font-size="26.5" text-anchor="middle" font-weight="normal" font-family='"Liberation Sans", sans-serif' >*</text>
<text x="199.3" y="1099.1" font-size="26.5" text-anchor="middle" font-weight="normal" font-family='"Liberation Sans", sans-serif' >*</text>
<text x="208.7" y="1099.1" font-size="26.5" text-anchor="middle" font-weight="normal" font-family='"Liberation Sans", sans-serif' >*</text>
<text x="231.5" y="1099.1" font-size="26.5" text-anchor="middle" font-weight="normal" font-family='"Liberation Sans", sans-serif' >*</text>
<text x="241.1" y="1099.1" font-size="26.5" text-anchor="middle" font-weight="normal" font-family='"Liberation Sans", sans-serif' >*</text>
<text x="250.4" y="1099.1" font-size="26.5" text-anchor="middle" font-weight="normal" font-family='"Liberation Sans", sans-serif' >*</text>
<text x="260.4" y="1099.1" font-size="26.5" text-anchor="middle" font-weight="normal" font-family='"Liberation Sans", sans-serif' >*</text>
<text x="303.2" y="1099.1" font-size="26.5" text-anchor="middle" font-weight="normal" font-family='"Liberation Sans", sans-serif' >*</text>
<text x="313.1" y="1099.1" font-size="26.5" text-anchor="middle" font-weight="normal" font-family='"Liberation Sans", sans-serif' >*</text>
<text x="324.1" y="1099.1" font-size="26.5" text-anchor="middle" font-weight="normal" font-family='"Liberation Sans", sans-serif' >*</text>
<text x="335.0" y="1099.1" font-size="26.5" text-anchor="middle" font-weight="normal" font-family='"Liberation Sans", sans-serif' >*</text>
<text x="379.4" y="1099.1" font-size="26.5" text-anchor="middle" font-weight="normal" font-family='"Liberation Sans", sans-serif' >*</text>
<text x="414.6" y="1099.1" font-size="26.5" text-anchor="middle" font-weight="normal" font-family='"Liberation Sans", sans-serif' >*</text>
<text x="424.6" y="1099.1" font-size="26.5" text-anchor="middle" font-weight="normal" font-family='"Liberation Sans", sans-serif' >*</text>
<text x="434.5" y="1099.1" font-size="26.5" text-anchor="middle" font-weight="normal" font-family='"Liberation Sans", sans-serif' >*</text>
<text x="578.0" y="1099.1" font-size="26.5" text-anchor="middle" font-weight="normal" font-family='"Liberation Sans", sans-serif' >*</text>
<text x="595.1" y="1099.1" font-size="26.5" text-anchor="middle" font-weight="normal" font-family='"Liberation Sans", sans-serif' >*</text>
<text x="605.5" y="1099.1" font-size="26.5" text-anchor="middle" font-weight="normal" font-family='"Liberation Sans", sans-serif' >*</text>
<text x="878.0" y="1099.1" font-size="26.5" text-anchor="middle" font-weight="normal" font-family='"Liberation Sans", sans-serif' >*</text>
<text x="919.8" y="1099.1" font-size="26.5" text-anchor="middle" font-weight="normal" font-family='"Liberation Sans", sans-serif' >*</text>
<text x="940.8" y="1099.1" font-size="26.5" text-anchor="middle" font-weight="normal" font-family='"Liberation Sans", sans-serif' >*</text>
<text x="951.9" y="1099.1" font-size="26.5" text-anchor="middle" font-weight="normal" font-family='"Liberation Sans", sans-serif' >*</text>
<text x="1035.0" y="1099.1" font-size="26.5" text-anchor="middle" font-weight="normal" font-family='"Liberation Sans", sans-serif' >*</text>
<text x="1190.8" y="1099.1" font-size="26.5" text-anchor="middle" font-weight="normal" font-family='"Liberation Sans", sans-serif' >*</text>
<text x="220.6" y="1091.5" font-size="21.3" text-anchor="middle" font-weight="normal" font-family='"Liberation Sans", sans-serif' >P</text>
<text x="503.2" y="1091.5" font-size="21.3" text-anchor="middle" font-weight="normal" font-family='"Liberation Sans", sans-serif' >P</text>
<text x="566.0" y="1091.5" font-size="21.3" text-anchor="middle" font-weight="normal" font-family='"Liberation Sans", sans-serif' >P</text>
<text x="992.7" y="1091.5" font-size="21.3" text-anchor="middle" font-weight="normal" font-family='"Liberation Sans", sans-serif' >P</text>
<rect x="281.4" y="1321.1" width="8.6" height="19.9" fill="#00a94f"/>
<rect x="395.8" y="1336.5" width="8.6" height="4.5" fill="#00a94f"/>
<rect x="489.4" y="1331.0" width="8.6" height="10.0" fill="#00a94f"/>
<rect x="510.2" y="1319.4" width="8.6" height="21.6" fill="#00a94f"/>
<rect x="531.0" y="1318.4" width="8.6" height="22.6" fill="#00a94f"/>
<rect x="541.4" y="1332.3" width="8.6" height="8.7" fill="#00a94f"/>
<rect x="551.8" y="1328.3" width="8.6" height="12.7" fill="#00a94f"/>
<rect x="583.0" y="1324.8" width="8.6" height="16.2" fill="#00a94f"/>
<rect x="614.2" y="1337.0" width="8.6" height="4.0" fill="#00a94f"/>
<rect x="635.0" y="1332.8" width="8.6" height="8.2" fill="#00a94f"/>
<rect x="645.4" y="1288.1" width="8.6" height="52.9" fill="#00a94f"/>
<rect x="666.2" y="1314.1" width="8.6" height="26.9" fill="#00a94f"/>
<rect x="676.6" y="1333.0" width="8.6" height="8.0" fill="#00a94f"/>
<rect x="687.0" y="1303.8" width="8.6" height="37.2" fill="#00a94f"/>
<rect x="697.4" y="1320.3" width="8.6" height="20.7" fill="#00a94f"/>
<rect x="707.8" y="1332.8" width="8.6" height="8.2" fill="#00a94f"/>
<rect x="718.2" y="1327.1" width="8.6" height="13.9" fill="#00a94f"/>
<rect x="728.6" y="1308.0" width="8.6" height="33.0" fill="#00a94f"/>
<rect x="739.0" y="1324.1" width="8.6" height="16.9" fill="#00a94f"/>
<rect x="749.4" y="1299.4" width="8.6" height="41.6" fill="#00a94f"/>
<rect x="759.8" y="1322.1" width="8.6" height="18.9" fill="#00a94f"/>
<rect x="770.2" y="1276.1" width="8.6" height="64.9" fill="#00a94f"/>
<rect x="791.0" y="1324.5" width="8.6" height="16.5" fill="#00a94f"/>
<rect x="801.4" y="1333.0" width="8.6" height="8.0" fill="#00a94f"/>
<rect x="811.8" y="1301.0" width="8.6" height="40.0" fill="#00a94f"/>
<rect x="822.2" y="1311.9" width="8.6" height="29.1" fill="#00a94f"/>
<rect x="832.6" y="1310.0" width="8.6" height="31.0" fill="#00a94f"/>
<rect x="843.0" y="1281.9" width="8.6" height="59.1" fill="#00a94f"/>
<rect x="853.4" y="1321.1" width="8.6" height="19.9" fill="#00a94f"/>
<rect x="863.8" y="1252.0" width="8.6" height="89.0" fill="#00a94f"/>
<rect x="884.6" y="1322.9" width="8.6" height="18.1" fill="#00a94f"/>
<rect x="895.0" y="1314.3" width="8.6" height="26.7" fill="#00a94f"/>
<rect x="905.4" y="1326.3" width="8.6" height="14.7" fill="#00a94f"/>
<rect x="978.2" y="1338.0" width="8.6" height="3.0" fill="#00a94f"/>
<rect x="999.0" y="1324.9" width="8.6" height="16.1" fill="#00a94f"/>
<rect x="1009.4" y="1328.9" width="8.6" height="12.1" fill="#00a94f"/>
<rect x="1019.8" y="1307.2" width="8.6" height="33.8" fill="#00a94f"/>
<rect x="1040.6" y="1310.2" width="8.6" height="30.8" fill="#00a94f"/>
<rect x="1051.0" y="1322.1" width="8.6" height="18.9" fill="#00a94f"/>
<rect x="1061.4" y="1319.9" width="8.6" height="21.1" fill="#00a94f"/>
<rect x="1071.8" y="1336.2" width="8.6" height="4.8" fill="#00a94f"/>
<rect x="1082.2" y="1322.5" width="8.6" height="18.5" fill="#00a94f"/>
<rect x="1092.6" y="1306.4" width="8.6" height="34.6" fill="#00a94f"/>
<rect x="1103.0" y="1328.9" width="8.6" height="12.1" fill="#00a94f"/>
<rect x="1113.4" y="1278.1" width="8.6" height="62.9" fill="#00a94f"/>
<rect x="1123.8" y="1329.3" width="8.6" height="11.7" fill="#00a94f"/>
<rect x="1134.2" y="1324.5" width="8.6" height="16.5" fill="#00a94f"/>
<rect x="1144.6" y="1336.2" width="8.6" height="4.8" fill="#00a94f"/>
<rect x="1165.4" y="1306.4" width="8.6" height="34.6" fill="#00a94f"/>
<rect x="1175.8" y="1288.1" width="8.6" height="52.9" fill="#00a94f"/>
<rect x="1196.6" y="1307.2" width="8.6" height="33.8" fill="#00a94f"/>
<rect x="1207.0" y="1330.9" width="8.6" height="10.1" fill="#00a94f"/>
<rect x="1217.4" y="1337.6" width="8.6" height="3.4" fill="#00a94f"/>
<rect x="1227.8" y="1315.1" width="8.6" height="25.9" fill="#00a94f"/>
<rect x="1238.2" y="1337.6" width="8.6" height="3.4" fill="#00a94f"/>
<rect x="1248.6" y="1318.7" width="8.6" height="22.3" fill="#00a94f"/>
<rect x="1259.0" y="1285.9" width="8.6" height="55.1" fill="#00a94f"/>
<rect x="1269.4" y="1312.9" width="8.6" height="28.1" fill="#00a94f"/>
<rect x="1279.8" y="1297.2" width="8.6" height="43.8" fill="#00a94f"/>
<rect x="1290.2" y="1326.7" width="8.6" height="14.3" fill="#00a94f"/>
<rect x="1300.6" y="1301.2" width="8.6" height="39.8" fill="#00a94f"/>
<rect x="1311.0" y="1303.8" width="8.6" height="37.2" fill="#00a94f"/>
<rect x="1321.4" y="1305.0" width="8.6" height="36.0" fill="#00a94f"/>
<rect x="1331.8" y="1266.0" width="8.6" height="75.0" fill="#00a94f"/>
<rect x="1342.2" y="1326.1" width="8.6" height="14.9" fill="#00a94f"/>
<rect x="1352.6" y="1333.0" width="8.6" height="8.0" fill="#00a94f"/>
<rect x="1363.0" y="1315.9" width="8.6" height="25.1" fill="#00a94f"/>
<line x1="155.2" y1="1150.9" x2="155.2" y2="1346.0" stroke="#000" stroke-width="5.1" />
<line x1="144.1" y1="1341.0" x2="1373.6" y2="1341.0" stroke="#000" stroke-width="5.2" />
<line x1="144.1" y1="1293.5" x2="155.2" y2="1293.5" stroke="#000" stroke-width="5.2" />
<line x1="144.1" y1="1246.0" x2="155.2" y2="1246.0" stroke="#000" stroke-width="5.2" />
<line x1="144.1" y1="1198.4" x2="155.2" y2="1198.4" stroke="#000" stroke-width="5.2" />
<line x1="144.1" y1="1150.9" x2="155.2" y2="1150.9" stroke="#000" stroke-width="5.2" />
<line x1="155.2" y1="1341.0" x2="155.2" y2="1346.0" stroke="#000" stroke-width="5.2" />
<line x1="259.4" y1="1341.0" x2="259.4" y2="1346.0" stroke="#000" stroke-width="5.2" />
<line x1="363.4" y1="1341.0" x2="363.4" y2="1346.0" stroke="#000" stroke-width="5.2" />
<line x1="467.6" y1="1341.0" x2="467.6" y2="1346.0" stroke="#000" stroke-width="5.2" />
<line x1="571.6" y1="1341.0" x2="571.6" y2="1346.0" stroke="#000" stroke-width="5.2" />
<line x1="675.8" y1="1341.0" x2="675.8" y2="1346.0" stroke="#000" stroke-width="5.2" />
<line x1="779.9" y1="1341.0" x2="779.9" y2="1346.0" stroke="#000" stroke-width="5.2" />
<line x1="884.0" y1="1341.0" x2="884.0" y2="1346.0" stroke="#000" stroke-width="5.2" />
<line x1="988.0" y1="1341.0" x2="988.0" y2="1346.0" stroke="#000" stroke-width="5.2" />
<line x1="1092.2" y1="1341.0" x2="1092.2" y2="1346.0" stroke="#000" stroke-width="5.2" />
<line x1="1196.2" y1="1341.0" x2="1196.2" y2="1346.0" stroke="#000" stroke-width="5.2" />
<line x1="1300.3" y1="1341.0" x2="1300.3" y2="1346.0" stroke="#000" stroke-width="5.2" />
<text x="132.4" y="1160.1" font-size="29.4" text-anchor="end" font-weight="normal" font-family='"Liberation Sans", sans-serif' >0.24</text>
<text x="132.4" y="1255.2" font-size="29.4" text-anchor="end" font-weight="normal" font-family='"Liberation Sans", sans-serif' >0.12</text>
<text x="132.4" y="1350.2" font-size="29.4" text-anchor="end" font-weight="normal" font-family='"Liberation Sans", sans-serif' >0</text>
<text x="179.8" y="1344.1" font-size="26.5" text-anchor="middle" font-weight="normal" font-family='"Liberation Sans", sans-serif' >*</text>
<text x="189.8" y="1344.1" font-size="26.5" text-anchor="middle" font-weight="normal" font-family='"Liberation Sans", sans-serif' >*</text>
<text x="199.3" y="1344.1" font-size="26.5" text-anchor="middle" font-weight="normal" font-family='"Liberation Sans", sans-serif' >*</text>
<text x="208.7" y="1344.1" font-size="26.5" text-anchor="middle" font-weight="normal" font-family='"Liberation Sans", sans-serif' >*</text>
<text x="231.5" y="1344.1" font-size="26.5" text-anchor="middle" font-weight="normal" font-family='"Liberation Sans", sans-serif' >*</text>
<text x="241.1" y="1344.1" font-size="26.5" text-anchor="middle" font-weight="normal" font-family='"Liberation Sans", sans-serif' >*</text>
<text x="250.4" y="1344.1" font-size="26.5" text-anchor="middle" font-weight="normal" font-family='"Liberation Sans", sans-serif' >*</text>
<text x="260.4" y="1344.1" font-size="26.5" text-anchor="middle" font-weight="normal" font-family='"Liberation Sans", sans-serif' >*</text>
<text x="303.2" y="1344.1" font-size="26.5" text-anchor="middle" font-weight="normal" font-family='"Liberation Sans", sans-serif' >*</text>
<text x="313.1" y="1344.1" font-size="26.5" text-anchor="middle" font-weight="normal" font-family='"Liberation Sans", sans-serif' >*</text>
<text x="324.1" y="1344.1" font-size="26.5" text-anchor="middle" font-weight="normal" font-family='"Liberation Sans", sans-serif' >*</text>
<text x="335.0" y="1344.1" font-size="26.5" text-anchor="middle" font-weight="normal" font-family='"Liberation Sans", sans-serif' >*</text>
<text x="379.4" y="1344.1" font-size="26.5" text-anchor="middle" font-weight="normal" font-family='"Liberation Sans", sans-serif' >*</text>
<text x="414.6" y="1344.1" font-size="26.5" text-anchor="middle" font-weight="normal" font-family='"Liberation Sans", sans-serif' >*</text>
<text x="424.6" y="1344.1" font-size="26.5" text-anchor="middle" font-weight="normal" font-family='"Liberation Sans", sans-serif' >*</text>
<text x="434.5" y="1344.1" font-size="26.5" text-anchor="middle" font-weight="normal" font-family='"Liberation Sans", sans-serif' >*</text>
<text x="578.0" y="1344.1" font-size="26.5" text-anchor="middle" font-weight="normal" font-family='"Liberation Sans", sans-serif' >*</text>
<text x="595.1" y="1344.1" font-size="26.5" text-anchor="middle" font-weight="normal" font-family='"Liberation Sans", sans-serif' >*</text>
<text x="605.5" y="1344.1" font-size="26.5" text-anchor="middle" font-weight="normal" font-family='"Liberation Sans", sans-serif' >*</text>
<text x="878.0" y="1344.1" font-size="26.5" text-anchor="middle" font-weight="normal" font-family='"Liberation Sans", sans-serif' >*</text>
<text x="919.8" y="1344.1" font-size="26.5" text-anchor="middle" font-weight="normal" font-family='"Liberation Sans", sans-serif' >*</text>
<text x="940.8" y="1344.1" font-size="26.5" text-anchor="middle" font-weight="normal" font-family='"Liberation Sans", sans-serif' >*</text>
<text x="951.9" y="1344.1" font-size="26.5" text-anchor="middle" font-weight="normal" font-family='"Liberation Sans", sans-serif' >*</text>
<text x="1035.0" y="1344.1" font-size="26.5" text-anchor="middle" font-weight="normal" font-family='"Liberation Sans", sans-serif' >*</text>
<text x="1190.8" y="1344.1" font-size="26.5" text-anchor="middle" font-weight="normal" font-family='"Liberation Sans", sans-serif' >*</text>
<text x="220.6" y="1336.5" font-size="21.3" text-anchor="middle" font-weight="normal" font-family='"Liberation Sans", sans-serif' >P</text>
<text x="503.2" y="1336.5" font-size="21.3" text-anchor="middle" font-weight="normal" font-family='"Liberation Sans", sans-serif' >P</text>
<text x="566.0" y="1336.5" font-size="21.3" text-anchor="middle" font-weight="normal" font-family='"Liberation Sans", sans-serif' >P</text>
<text x="992.7" y="1336.5" font-size="21.3" text-anchor="middle" font-weight="normal" font-family='"Liberation Sans", sans-serif' >P</text>
<text x="155.2" y="1380.3" font-size="29.4" text-anchor="middle" font-weight="normal" font-family='"Liberation Sans", sans-serif' >30</text>
<text x="259.4" y="1380.3" font-size="29.4" text-anchor="middle" font-weight="normal" font-family='"Liberation Sans", sans-serif' >40</text>
<text x="363.4" y="1380.3" font-size="29.4" text-anchor="middle" font-weight="normal" font-family='"Liberation Sans", sans-serif' >50</text>
<text x="467.6" y="1380.3" font-size="29.4" text-anchor="middle" font-weight="normal" font-family='"Liberation Sans", sans-serif' >60</text>
<text x="571.6" y="1380.3" font-size="29.4" text-anchor="middle" font-weight="normal" font-family='"Liberation Sans", sans-serif' >70</text>
<text x="675.8" y="1380.3" font-size="29.4" text-anchor="middle" font-weight="normal" font-family='"Liberation Sans", sans-serif' >80</text>
<text x="779.9" y="1380.3" font-size="29.4" text-anchor="middle" font-weight="normal" font-family='"Liberation Sans", sans-serif' >90</text>
<text x="884.0" y="1380.3" font-size="29.4" text-anchor="middle" font-weight="normal" font-family='"Liberation Sans", sans-serif' >100</text>
<text x="988.0" y="1380.3" font-size="29.4" text-anchor="middle" font-weight="normal" font-family='"Liberation Sans", sans-serif' >110</text>
<text x="1092.2" y="1380.3" font-size="29.4" text-anchor="middle" font-weight="normal" font-family='"Liberation Sans", sans-serif' >120</text>
<text x="1196.2" y="1380.3" font-size="29.4" text-anchor="middle" font-weight="normal" font-family='"Liberation Sans", sans-serif' >130</text>
<text x="1300.3" y="1380.3" font-size="29.4" text-anchor="middle" font-weight="normal" font-family='"Liberation Sans", sans-serif' >140</text>
<text x="650.1" y="1422.7" font-size="29.4" text-anchor="start" font-weight="normal" font-family='"Liberation Sans", sans-serif' >Residue number</text>
<text transform="translate(49.6 1319.6) rotate(-90)" font-size="29.3" font-family='"Liberation Sans", sans-serif'>Chemical shift change (p.p.m.)</text>
<line x1="155.8" y1="881.3" x2="1377.0" y2="881.3" stroke="#000" stroke-width="5.4" />
<rect x="556.0" y="868.4" width="131.2" height="26.7" fill="#ff0000" stroke="#000" stroke-width="2.2"/>
<rect x="764.4" y="868.4" width="17.5" height="26.7" fill="#ffff00" stroke="#000" stroke-width="2.2"/>
<rect x="785.5" y="868.4" width="69.9" height="26.7" fill="#ff0000" stroke="#000" stroke-width="2.2"/>
<rect x="1026.0" y="868.4" width="171.2" height="26.7" fill="#ff0000" stroke="#000" stroke-width="2.2"/>
<rect x="1255.2" y="868.4" width="17.1" height="26.7" fill="#ffff00" stroke="#000" stroke-width="2.2"/>
<rect x="1275.8" y="868.4" width="72.0" height="26.7" fill="#ff0000" stroke="#000" stroke-width="2.2"/>
<text x="619.5" y="856.2" text-anchor="middle" font-size="29.4" font-family='"Liberation Sans", sans-serif'><tspan font-family='"Liberation Serif", serif' font-size="31.8">α</tspan>1</text>
<text x="771.0" y="856.2" text-anchor="middle" font-size="29.4" font-family='"Liberation Sans", sans-serif'><tspan font-family='"Liberation Serif", serif' font-size="31.8">β</tspan>1</text>
<text x="822.0" y="856.2" text-anchor="middle" font-size="29.4" font-family='"Liberation Sans", sans-serif'><tspan font-family='"Liberation Serif", serif' font-size="31.8">α</tspan>2</text>
<text x="1111.0" y="856.2" text-anchor="middle" font-size="29.4" font-family='"Liberation Sans", sans-serif'><tspan font-family='"Liberation Serif", serif' font-size="31.8">α</tspan>3</text>
<text x="1260.5" y="856.2" text-anchor="middle" font-size="29.4" font-family='"Liberation Sans", sans-serif'><tspan font-family='"Liberation Serif", serif' font-size="31.8">β</tspan>2</text>
<text x="1314.0" y="856.2" text-anchor="middle" font-size="29.4" font-family='"Liberation Sans", sans-serif'><tspan font-family='"Liberation Serif", serif' font-size="31.8">α</tspan>4</text>
<g transform="translate(1440 800) scale(0.14941)">
<defs>
<linearGradient id="gF" x1="0" y1="0" x2="0" y2="1"><stop offset="0" stop-color="#cfcfcf"/><stop offset="0.3" stop-color="#f6f6f6"/><stop offset="0.65" stop-color="#e4e4e4"/><stop offset="1" stop-color="#9c9c9c"/></linearGradient>
<linearGradient id="gB" x1="0" y1="0" x2="0" y2="1"><stop offset="0" stop-color="#a9a9a9"/><stop offset="0.5" stop-color="#d6d6d6"/><stop offset="1" stop-color="#eeeeee"/></linearGradient>
<linearGradient id="gP1" x1="0" y1="0" x2="0" y2="1"><stop offset="0" stop-color="#d47c7c"/><stop offset="0.22" stop-color="#e39090"/><stop offset="0.36" stop-color="#fbfbfb"/><stop offset="0.7" stop-color="#e2e2e2"/><stop offset="1" stop-color="#9a9a9a"/></linearGradient>
<linearGradient id="gP2" x1="0" y1="0" x2="0" y2="1"><stop offset="0" stop-color="#e39292"/><stop offset="1" stop-color="#c46868"/></linearGradient>
<linearGradient id="gR2" x1="0" y1="0" x2="0" y2="1"><stop offset="0" stop-color="#b9b9b9"/><stop offset="0.12" stop-color="#c8c8c8"/><stop offset="0.2" stop-color="#e60000"/><stop offset="0.78" stop-color="#cc0000"/><stop offset="0.88" stop-color="#8f8f8f"/><stop offset="1" stop-color="#8a8a8a"/></linearGradient>
<linearGradient id="gLeaf" x1="0" y1="0" x2="0" y2="1"><stop offset="0" stop-color="#e08888"/><stop offset="0.22" stop-color="#eba5a5"/><stop offset="0.42" stop-color="#f2f2f2"/><stop offset="0.8" stop-color="#d8d8d8"/><stop offset="1" stop-color="#a5a5a5"/></linearGradient>
<linearGradient id="gRing" x1="0" y1="0" x2="1" y2="1"><stop offset="0" stop-color="#8e8e8e"/><stop offset="0.45" stop-color="#d8d8d8"/><stop offset="1" stop-color="#bdbdbd"/></linearGradient>
<linearGradient id="gDR" x1="0" y1="0" x2="1" y2="0"><stop offset="0" stop-color="#520000"/><stop offset="0.25" stop-color="#6e0000"/><stop offset="0.5" stop-color="#b00000"/><stop offset="1" stop-color="#7a0000"/></linearGradient>
<linearGradient id="gDR2" x1="0" y1="0" x2="1" y2="1"><stop offset="0" stop-color="#6a0000"/><stop offset="0.5" stop-color="#4a1616"/><stop offset="1" stop-color="#452c2c"/></linearGradient>
<filter id="blur" x="-20%" y="-20%" width="140%" height="140%"><feGaussianBlur stdDeviation="9"/></filter>
</defs>
<path d="M1778,268 C1752,273 1759,288 1700,282 C1641,276 1667,272 1600,250 C1533,228 1560,227 1500,215 C1440,203 1462,203 1420,215 C1378,227 1393,215 1375,250 C1357,285 1372,273 1365,320 C1358,367 1370,350 1355,390 C1340,430 1351,415 1320,440 C1289,465 1281,457 1262,466" fill="none" stroke="#6c6c6c" stroke-width="28" stroke-linecap="round"/>
<path d="M1778,268 C1752,273 1759,288 1700,282 C1641,276 1667,272 1600,250 C1533,228 1560,227 1500,215 C1440,203 1462,203 1420,215 C1378,227 1393,215 1375,250 C1357,285 1372,273 1365,320 C1358,367 1370,350 1355,390 C1340,430 1351,415 1320,440 C1289,465 1281,457 1262,466" fill="none" stroke="#dedede" stroke-width="17" stroke-linecap="round"/>
<path d="M1778,268 C1752,273 1759,288 1700,282 C1641,276 1667,272 1600,250 C1533,228 1560,227 1500,215 C1440,203 1462,203 1420,215 C1378,227 1393,215 1375,250 C1357,285 1372,273 1365,320 C1358,367 1370,350 1355,390 C1340,430 1351,415 1320,440 C1289,465 1281,457 1262,466" fill="none" stroke="#fafafa" stroke-width="8" stroke-linecap="round"/>
<path d="M222,612 C219,656 232,656 245,652 C258,648 244,651 262,600 C280,549 264,560 300,500 C336,440 323,463 370,420 C417,377 403,391 440,370 C477,349 482,378 482,358 C482,338 474,332 440,310 C406,288 419,295 380,292 C341,289 353,284 322,300 C291,316 304,300 286,340 C268,380 278,360 268,420 C258,480 270,456 255,520 C240,584 225,568 222,612Z" fill="url(#gB)" stroke="#7c7c7c" stroke-width="7" stroke-linejoin="round" />
<path d="M218,606 L246,656 L254,628 L232,598Z" fill="#555"/>
<path d="M690,400 C692,352 693,378 730,355 C767,332 753,325 800,330 C847,335 838,343 870,370 C902,397 902,377 895,410 C888,443 878,420 850,470 C822,520 832,497 810,560 C788,623 797,613 785,660 C773,707 785,720 775,700 C765,680 772,667 755,600 C738,533 747,567 725,500 C703,433 688,448 690,400Z" fill="url(#gB)" stroke="#7c7c7c" stroke-width="7" stroke-linejoin="round" />
<path d="M1110,385 C1112,348 1110,366 1150,348 C1190,330 1176,331 1230,330 C1284,329 1292,322 1312,345 C1332,368 1312,358 1290,400 C1268,442 1273,413 1245,470 C1217,527 1223,523 1205,570 C1187,617 1202,620 1192,610 C1182,600 1191,590 1175,540 C1159,490 1167,512 1145,460 C1123,408 1108,422 1110,385Z" fill="url(#gP2)" stroke="#b87070" stroke-width="7" stroke-linejoin="round" />
<path d="M340,293 C353,280 363,288 430,290 C497,292 478,285 540,300 C602,315 568,297 615,335 C662,373 642,353 680,415 C718,477 703,452 730,520 C757,588 744,555 760,620 C776,685 806,681 778,715 C750,749 745,721 675,721 C605,721 610,751 568,714 C526,677 569,685 550,610 C531,535 543,563 510,490 C477,417 490,443 450,390 C410,337 427,362 390,330 C353,298 327,306 340,293Z" fill="url(#gF)" stroke="#7c7c7c" stroke-width="7" stroke-linejoin="round" />
<path d="M700,395 C687,389 695,371 725,345 C755,319 732,327 790,316 C848,305 833,311 900,312 C967,313 940,308 990,318 C1040,328 1013,319 1050,343 C1087,367 1067,344 1100,390 C1133,436 1123,417 1150,480 C1177,543 1167,503 1182,580 C1197,657 1226,666 1195,712 C1164,758 1158,718 1090,719 C1022,720 1028,750 990,714 C952,678 992,680 975,610 C958,540 970,570 940,505 C910,440 922,462 885,415 C848,368 870,383 830,365 C790,347 808,352 765,362 C722,372 713,401 700,395Z" fill="url(#gP1)" stroke="#7c7c7c" stroke-width="7" stroke-linejoin="round" />
<path d="M1240,338 C1270,339 1270,326 1330,342 C1390,358 1363,351 1420,385 C1477,419 1452,407 1500,445 C1548,483 1527,472 1565,498 C1603,524 1617,511 1615,522 C1613,533 1592,533 1560,531 C1528,529 1537,532 1520,515 C1503,498 1501,508 1508,480 C1515,452 1503,467 1540,430 C1577,393 1563,412 1620,370 C1677,328 1657,339 1710,305 C1763,271 1755,280 1778,268" fill="none" stroke="#6c6c6c" stroke-width="28" stroke-linecap="round"/>
<path d="M1240,338 C1270,339 1270,326 1330,342 C1390,358 1363,351 1420,385 C1477,419 1452,407 1500,445 C1548,483 1527,472 1565,498 C1603,524 1617,511 1615,522 C1613,533 1592,533 1560,531 C1528,529 1537,532 1520,515 C1503,498 1501,508 1508,480 C1515,452 1503,467 1540,430 C1577,393 1563,412 1620,370 C1677,328 1657,339 1710,305 C1763,271 1755,280 1778,268" fill="none" stroke="#dedede" stroke-width="17" stroke-linecap="round"/>
<path d="M1240,338 C1270,339 1270,326 1330,342 C1390,358 1363,351 1420,385 C1477,419 1452,407 1500,445 C1548,483 1527,472 1565,498 C1603,524 1617,511 1615,522 C1613,533 1592,533 1560,531 C1528,529 1537,532 1520,515 C1503,498 1501,508 1508,480 C1515,452 1503,467 1540,430 C1577,393 1563,412 1620,370 C1677,328 1657,339 1710,305 C1763,271 1755,280 1778,268" fill="none" stroke="#fafafa" stroke-width="8" stroke-linecap="round"/>
<path d="M1195,660 C1210,687 1205,690 1240,740 C1275,790 1257,772 1300,810 C1343,848 1320,830 1370,855 C1420,880 1423,875 1450,885" fill="none" stroke="#6c6c6c" stroke-width="28" stroke-linecap="round"/>
<path d="M1195,660 C1210,687 1205,690 1240,740 C1275,790 1257,772 1300,810 C1343,848 1320,830 1370,855 C1420,880 1423,875 1450,885" fill="none" stroke="#dedede" stroke-width="17" stroke-linecap="round"/>
<path d="M1195,660 C1210,687 1205,690 1240,740 C1275,790 1257,772 1300,810 C1343,848 1320,830 1370,855 C1420,880 1423,875 1450,885" fill="none" stroke="#fafafa" stroke-width="8" stroke-linecap="round"/>
<path d="M1690,1020 C1705,1038 1707,1041 1735,1075 C1763,1109 1760,1106 1773,1122" fill="none" stroke="#6c6c6c" stroke-width="28" stroke-linecap="round"/>
<path d="M1690,1020 C1705,1038 1707,1041 1735,1075 C1763,1109 1760,1106 1773,1122" fill="none" stroke="#dedede" stroke-width="17" stroke-linecap="round"/>
<path d="M1690,1020 C1705,1038 1707,1041 1735,1075 C1763,1109 1760,1106 1773,1122" fill="none" stroke="#fafafa" stroke-width="8" stroke-linecap="round"/>
<path d="M1773,1122 C1784,1135 1778,1141 1805,1162 C1832,1183 1817,1181 1853,1186 C1889,1191 1869,1189 1913,1178 C1957,1167 1946,1170 1985,1154 C2024,1138 2015,1138 2030,1130" fill="none" stroke="#b86c6c" stroke-width="28" stroke-linecap="round"/>
<path d="M1773,1122 C1784,1135 1778,1141 1805,1162 C1832,1183 1817,1181 1853,1186 C1889,1191 1869,1189 1913,1178 C1957,1167 1946,1170 1985,1154 C2024,1138 2015,1138 2030,1130" fill="none" stroke="#e79292" stroke-width="17" stroke-linecap="round"/>
<path d="M1773,1122 C1784,1135 1778,1141 1805,1162 C1832,1183 1817,1181 1853,1186 C1889,1191 1869,1189 1913,1178 C1957,1167 1946,1170 1985,1154 C2024,1138 2015,1138 2030,1130" fill="none" stroke="#f5b5b5" stroke-width="8" stroke-linecap="round"/>
<path d="M1530,815 L1692,1022 L1395,965Z" fill="url(#gB)" stroke="#9a9a9a" stroke-width="6" stroke-linejoin="round"/>
<path d="M612,1125 C616,1097 606,1093 625,1040 C644,987 628,1006 670,965 C712,924 687,939 750,918 C813,897 802,896 860,902 C918,908 875,899 925,935 C975,971 945,955 1010,1010 C1075,1065 1083,1070 1120,1100" fill="none" stroke="#6c6c6c" stroke-width="28" stroke-linecap="round"/>
<path d="M612,1125 C616,1097 606,1093 625,1040 C644,987 628,1006 670,965 C712,924 687,939 750,918 C813,897 802,896 860,902 C918,908 875,899 925,935 C975,971 945,955 1010,1010 C1075,1065 1083,1070 1120,1100" fill="none" stroke="#dedede" stroke-width="17" stroke-linecap="round"/>
<path d="M612,1125 C616,1097 606,1093 625,1040 C644,987 628,1006 670,965 C712,924 687,939 750,918 C813,897 802,896 860,902 C918,908 875,899 925,935 C975,971 945,955 1010,1010 C1075,1065 1083,1070 1120,1100" fill="none" stroke="#fafafa" stroke-width="8" stroke-linecap="round"/>
<path d="M1120,1100 C1142,1117 1143,1122 1185,1150 C1227,1178 1225,1173 1245,1185" fill="none" stroke="#b86c6c" stroke-width="28" stroke-linecap="round"/>
<path d="M1120,1100 C1142,1117 1143,1122 1185,1150 C1227,1178 1225,1173 1245,1185" fill="none" stroke="#e79292" stroke-width="17" stroke-linecap="round"/>
<path d="M1120,1100 C1142,1117 1143,1122 1185,1150 C1227,1178 1225,1173 1245,1185" fill="none" stroke="#f5b5b5" stroke-width="8" stroke-linecap="round"/>
<path d="M1440,1185 C1457,1188 1450,1176 1490,1195 C1530,1214 1525,1199 1560,1241 C1595,1283 1588,1277 1595,1321 C1602,1365 1608,1358 1580,1372 C1552,1386 1560,1363 1510,1363 C1460,1363 1473,1347 1430,1373 C1387,1399 1399,1385 1382,1441 C1365,1497 1391,1478 1380,1541 C1369,1604 1380,1591 1350,1631 C1320,1671 1340,1658 1290,1661 C1240,1664 1230,1648 1200,1641" fill="none" stroke="#6c6c6c" stroke-width="28" stroke-linecap="round"/>
<path d="M1440,1185 C1457,1188 1450,1176 1490,1195 C1530,1214 1525,1199 1560,1241 C1595,1283 1588,1277 1595,1321 C1602,1365 1608,1358 1580,1372 C1552,1386 1560,1363 1510,1363 C1460,1363 1473,1347 1430,1373 C1387,1399 1399,1385 1382,1441 C1365,1497 1391,1478 1380,1541 C1369,1604 1380,1591 1350,1631 C1320,1671 1340,1658 1290,1661 C1240,1664 1230,1648 1200,1641" fill="none" stroke="#dedede" stroke-width="17" stroke-linecap="round"/>
<path d="M1440,1185 C1457,1188 1450,1176 1490,1195 C1530,1214 1525,1199 1560,1241 C1595,1283 1588,1277 1595,1321 C1602,1365 1608,1358 1580,1372 C1552,1386 1560,1363 1510,1363 C1460,1363 1473,1347 1430,1373 C1387,1399 1399,1385 1382,1441 C1365,1497 1391,1478 1380,1541 C1369,1604 1380,1591 1350,1631 C1320,1671 1340,1658 1290,1661 C1240,1664 1230,1648 1200,1641" fill="none" stroke="#fafafa" stroke-width="8" stroke-linecap="round"/>
<path d="M1360,1115 C1363,1093 1356,1097 1395,1085 C1434,1073 1461,1048 1478,1080 C1495,1112 1476,1119 1445,1180 C1414,1241 1420,1250 1385,1262 C1350,1274 1340,1252 1340,1215 C1340,1178 1378,1183 1385,1150 C1392,1117 1357,1137 1360,1115Z" fill="url(#gB)" stroke="#9a9a9a" stroke-width="5" stroke-linejoin="round" />
<path d="M1240,1172 C1257,1156 1259,1170 1300,1150 C1341,1130 1333,1113 1362,1113 C1391,1113 1395,1115 1388,1150 C1381,1185 1375,1191 1342,1217 C1309,1243 1321,1234 1290,1227 C1259,1220 1267,1215 1250,1197 C1233,1179 1223,1188 1240,1172Z" fill="#dc8686" stroke="#b87070" stroke-width="5" stroke-linejoin="round" />
<path fill-rule="evenodd" fill="url(#gRing)" stroke="#8a8a8a" stroke-width="6" d="M600,1245 a185,150 0 1,0 370,0 a185,150 0 1,0 -370,0Z M680,1226 a115,70 0 1,0 230,0 a115,70 0 1,0 -230,0Z"/>
<path d="M606,1152 C629,1125 622,1129 680,1110 C738,1091 713,1096 780,1094 C847,1092 825,1085 880,1104 C935,1123 916,1111 945,1150 C974,1189 964,1173 968,1220 C972,1267 971,1249 957,1290 C943,1331 942,1339 925,1342 C908,1345 913,1337 905,1300 C897,1263 918,1273 900,1232 C882,1191 893,1203 850,1176 C807,1149 823,1157 770,1152 C717,1147 733,1147 690,1160 C647,1173 666,1180 640,1190 C614,1200 623,1203 612,1190 C601,1177 583,1179 606,1152Z" fill="#cc6c6e" stroke="#a85c5c" stroke-width="5" stroke-linejoin="round" />
<path d="M530,1452 C535,1415 533,1407 545,1340 C557,1273 545,1302 565,1250 C585,1198 573,1217 605,1183 C637,1149 617,1162 662,1148 C707,1134 684,1134 740,1140 C796,1146 780,1138 830,1165 C880,1192 862,1178 890,1220 C918,1262 907,1267 915,1290" fill="none" stroke="#b86c6c" stroke-width="24" stroke-linecap="round"/>
<path d="M530,1452 C535,1415 533,1407 545,1340 C557,1273 545,1302 565,1250 C585,1198 573,1217 605,1183 C637,1149 617,1162 662,1148 C707,1134 684,1134 740,1140 C796,1146 780,1138 830,1165 C880,1192 862,1178 890,1220 C918,1262 907,1267 915,1290" fill="none" stroke="#e79292" stroke-width="13" stroke-linecap="round"/>
<path d="M530,1452 C535,1415 533,1407 545,1340 C557,1273 545,1302 565,1250 C585,1198 573,1217 605,1183 C637,1149 617,1162 662,1148 C707,1134 684,1134 740,1140 C796,1146 780,1138 830,1165 C880,1192 862,1178 890,1220 C918,1262 907,1267 915,1290" fill="none" stroke="#f3b0b0" stroke-width="4" stroke-linecap="round"/>
<ellipse cx="1929" cy="955" rx="170" ry="190" fill="url(#gDR)"/>
<ellipse cx="1957" cy="955" rx="146" ry="182" fill="#3a2424" stroke="#f00000" stroke-width="20"/>
<ellipse cx="2045" cy="928" rx="176" ry="191" fill="#2e2020"/>
<path d="M2137,1075 L2273,949 L2293,975 L2167,1089Z" fill="#ee0000" stroke="#b00000" stroke-width="3"/>
<ellipse cx="2045" cy="928" rx="176" ry="191" fill="none" stroke="#c47c7c" stroke-width="20"/>
<ellipse cx="2045" cy="928" rx="176" ry="191" fill="none" stroke="#f2a0a0" stroke-width="14"/>
<ellipse cx="1993" cy="943" rx="120" ry="160" fill="url(#gDR2)" stroke="#ee9a9a" stroke-width="11"/>
<ellipse cx="1961" cy="963" rx="80" ry="132" fill="#fff"/>
<path d="M1929,1055 C1944,1069 1939,1075 1973,1097 C2008,1118 1993,1113 2033,1119 C2073,1124 2059,1122 2093,1114 C2127,1105 2121,1100 2135,1094" fill="none" stroke="#9a9a9a" stroke-width="20" stroke-linecap="round"/>
<path d="M1929,1055 C1944,1069 1939,1075 1973,1097 C2008,1118 1993,1113 2033,1119 C2073,1124 2059,1122 2093,1114 C2127,1105 2121,1100 2135,1094" fill="none" stroke="#f2f2f2" stroke-width="13" stroke-linecap="round"/>
<path d="M2313,977 C2333,988 2327,991 2373,1010 C2420,1028 2403,1023 2453,1032 C2503,1041 2473,1049 2523,1037 C2573,1024 2550,1035 2603,994 C2657,953 2639,964 2683,914 C2727,863 2709,899 2735,842 C2762,784 2741,799 2763,742 C2786,684 2763,711 2803,670 C2843,629 2827,626 2883,619 C2940,611 2910,613 2973,647 C3037,680 3007,669 3073,720 C3140,771 3117,750 3173,800 C3230,850 3206,822 3243,870 C3281,917 3267,900 3285,942 C3304,983 3312,957 3298,994 C3284,1030 3292,1020 3243,1052 C3195,1083 3217,1079 3153,1088 C3090,1096 3113,1076 3053,1078 C2993,1080 3031,1070 2973,1094 C2916,1118 2912,1131 2881,1150" transform="translate(8 22)" fill="none" stroke="#000" stroke-opacity="0.22" stroke-width="26" stroke-dasharray="26 24" filter="url(#blur)"/>
<path d="M2313,977 C2333,988 2327,991 2373,1010 C2420,1028 2403,1023 2453,1032 C2503,1041 2473,1049 2523,1037 C2573,1024 2550,1035 2603,994 C2657,953 2639,964 2683,914 C2727,863 2709,899 2735,842 C2762,784 2741,799 2763,742 C2786,684 2763,711 2803,670 C2843,629 2827,626 2883,619 C2940,611 2910,613 2973,647 C3037,680 3007,669 3073,720 C3140,771 3117,750 3173,800 C3230,850 3206,822 3243,870 C3281,917 3267,900 3285,942 C3304,983 3312,957 3298,994 C3284,1030 3292,1020 3243,1052 C3195,1083 3217,1079 3153,1088 C3090,1096 3113,1076 3053,1078 C2993,1080 3031,1070 2973,1094 C2916,1118 2912,1131 2881,1150" fill="none" stroke="#000" stroke-width="26" stroke-dasharray="27 23"/>
<path d="M2888,1194 C2867,1217 2870,1214 2823,1264 C2777,1313 2784,1292 2748,1342 C2712,1391 2724,1365 2715,1412 C2707,1458 2711,1440 2723,1482 C2735,1523 2742,1518 2751,1537" fill="none" stroke="#6c6c6c" stroke-width="28" stroke-linecap="round"/>
<path d="M2888,1194 C2867,1217 2870,1214 2823,1264 C2777,1313 2784,1292 2748,1342 C2712,1391 2724,1365 2715,1412 C2707,1458 2711,1440 2723,1482 C2735,1523 2742,1518 2751,1537" fill="none" stroke="#dedede" stroke-width="17" stroke-linecap="round"/>
<path d="M2888,1194 C2867,1217 2870,1214 2823,1264 C2777,1313 2784,1292 2748,1342 C2712,1391 2724,1365 2715,1412 C2707,1458 2711,1440 2723,1482 C2735,1523 2742,1518 2751,1537" fill="none" stroke="#fafafa" stroke-width="8" stroke-linecap="round"/>
<path d="M2751,1537 C2769,1547 2771,1543 2803,1567 C2836,1590 2833,1593 2848,1607" fill="none" stroke="#6c6c6c" stroke-width="28" stroke-linecap="round"/>
<path d="M2751,1537 C2769,1547 2771,1543 2803,1567 C2836,1590 2833,1593 2848,1607" fill="none" stroke="#dedede" stroke-width="17" stroke-linecap="round"/>
<path d="M2751,1537 C2769,1547 2771,1543 2803,1567 C2836,1590 2833,1593 2848,1607" fill="none" stroke="#fafafa" stroke-width="8" stroke-linecap="round"/>
<path d="M1205,1571 C1180,1573 1185,1564 1130,1576 C1075,1588 1089,1578 1040,1606 C991,1634 1001,1629 982,1661 C963,1693 963,1689 982,1701 C1001,1713 994,1711 1040,1696 C1086,1681 1070,1688 1120,1656 C1170,1624 1158,1629 1190,1601 C1222,1573 1207,1581 1215,1571" fill="none" stroke="#a86868" stroke-width="28" stroke-linecap="round"/>
<path d="M1205,1571 C1180,1573 1185,1564 1130,1576 C1075,1588 1089,1578 1040,1606 C991,1634 1001,1629 982,1661 C963,1693 963,1689 982,1701 C1001,1713 994,1711 1040,1696 C1086,1681 1070,1688 1120,1656 C1170,1624 1158,1629 1190,1601 C1222,1573 1207,1581 1215,1571" fill="none" stroke="#dc8c8c" stroke-width="17" stroke-linecap="round"/>
<path d="M1205,1571 C1180,1573 1185,1564 1130,1576 C1075,1588 1089,1578 1040,1606 C991,1634 1001,1629 982,1661 C963,1693 963,1689 982,1701 C1001,1713 994,1711 1040,1696 C1086,1681 1070,1688 1120,1656 C1170,1624 1158,1629 1190,1601 C1222,1573 1207,1581 1215,1571" fill="none" stroke="#efb5b5" stroke-width="8" stroke-linecap="round"/>
<path d="M1110,1636 C1097,1656 1098,1653 1092,1711 C1086,1769 1084,1748 1092,1811 C1100,1874 1089,1848 1115,1901 C1141,1954 1118,1937 1170,1971 C1222,2005 1197,2001 1270,2003 C1343,2005 1323,1987 1390,1976 C1457,1965 1430,1979 1470,1971 C1510,1963 1523,1964 1510,1951 C1497,1938 1480,1944 1430,1931 C1380,1918 1407,1941 1360,1911 C1313,1881 1340,1891 1290,1841 C1240,1791 1255,1808 1210,1761 C1165,1714 1181,1738 1155,1701 C1129,1664 1147,1673 1132,1651 C1117,1629 1123,1616 1110,1636Z" fill="url(#gLeaf)" stroke="#7c7c7c" stroke-width="7" stroke-linejoin="round" />
<path d="M1370,1921 C1367,1877 1380,1884 1400,1831 C1420,1778 1405,1764 1430,1761 C1455,1758 1434,1774 1475,1821 C1516,1868 1532,1862 1552,1903 C1572,1944 1559,1920 1535,1943 C1511,1966 1522,1964 1480,1971 C1438,1978 1447,1980 1410,1963 C1373,1946 1373,1965 1370,1921Z" fill="#e20000" stroke="#a00000" stroke-width="4" stroke-linejoin="round" />
<path d="M1740,1871 C1743,1846 1753,1861 1775,1811 C1797,1761 1790,1771 1805,1721 C1820,1671 1807,1664 1820,1661 C1833,1658 1825,1668 1845,1711 C1865,1754 1854,1741 1880,1791 C1906,1841 1912,1823 1922,1861 C1932,1899 1931,1884 1910,1906 C1889,1928 1897,1922 1860,1927 C1823,1932 1832,1935 1800,1921 C1768,1907 1785,1903 1765,1886 C1745,1869 1737,1896 1740,1871Z" fill="url(#gP2)" stroke="#b87070" stroke-width="5" stroke-linejoin="round" />
<path d="M2142,1851 C2139,1798 2152,1824 2170,1761 C2188,1698 2178,1731 2195,1661 C2212,1591 2203,1574 2220,1551 C2237,1528 2225,1551 2245,1591 C2265,1631 2258,1618 2280,1671 C2302,1724 2289,1694 2310,1751 C2331,1808 2342,1793 2342,1841 C2342,1889 2339,1867 2310,1896 C2281,1925 2298,1921 2255,1929 C2212,1937 2218,1947 2180,1921 C2142,1895 2145,1904 2142,1851Z" fill="url(#gB)" stroke="#7c7c7c" stroke-width="7" stroke-linejoin="round" />
<path d="M2570,1841 C2567,1784 2583,1798 2620,1731 C2657,1664 2640,1701 2680,1641 C2720,1581 2714,1568 2740,1551 C2766,1534 2753,1544 2758,1591 C2763,1638 2759,1624 2755,1691 C2751,1758 2757,1734 2745,1791 C2733,1848 2745,1825 2718,1863 C2691,1901 2694,1893 2665,1906 C2636,1919 2662,1925 2630,1903 C2598,1881 2573,1898 2570,1841Z" fill="url(#gB)" stroke="#7c7c7c" stroke-width="7" stroke-linejoin="round" />
<path d="M1405,1591 C1432,1565 1438,1581 1500,1573 C1562,1565 1555,1547 1592,1566 C1629,1585 1591,1579 1610,1631 C1629,1683 1617,1659 1650,1721 C1683,1783 1668,1762 1710,1816 C1752,1870 1734,1851 1775,1883 C1816,1915 1817,1898 1832,1913 C1847,1928 1854,1922 1820,1927 C1786,1932 1787,1929 1730,1929 C1673,1929 1702,1946 1650,1927 C1598,1908 1625,1915 1575,1873 C1525,1831 1542,1852 1500,1801 C1458,1750 1477,1771 1450,1721 C1423,1671 1435,1694 1420,1651 C1405,1608 1378,1617 1405,1591Z" fill="url(#gF)" stroke="#7c7c7c" stroke-width="7" stroke-linejoin="round" />
<path d="M1810,1551 C1838,1521 1845,1545 1910,1541 C1975,1537 1968,1519 2005,1539 C2042,1559 2003,1554 2020,1601 C2037,1648 2028,1624 2055,1681 C2082,1738 2071,1714 2100,1771 C2129,1828 2117,1807 2142,1851 C2167,1895 2171,1878 2175,1903 C2179,1928 2187,1916 2155,1926 C2123,1936 2128,1931 2080,1933 C2032,1935 2053,1948 2010,1931 C1967,1914 1988,1926 1950,1883 C1912,1840 1927,1858 1895,1801 C1863,1744 1878,1768 1855,1711 C1832,1654 1840,1684 1825,1631 C1810,1578 1782,1581 1810,1551Z" fill="url(#gR2)" stroke="#8a6060" stroke-width="5" stroke-linejoin="round" />
<path d="M2220,1536 C2242,1509 2250,1532 2320,1529 C2390,1526 2387,1505 2430,1526 C2473,1547 2432,1543 2450,1591 C2468,1639 2460,1614 2485,1671 C2510,1728 2497,1704 2525,1761 C2553,1818 2535,1794 2570,1841 C2605,1888 2630,1879 2630,1903 C2630,1927 2623,1908 2570,1913 C2517,1918 2523,1930 2470,1917 C2417,1904 2452,1918 2410,1873 C2368,1828 2383,1842 2345,1781 C2307,1720 2325,1748 2295,1691 C2265,1634 2280,1663 2255,1611 C2230,1559 2198,1563 2220,1536Z" fill="url(#gF)" stroke="#7c7c7c" stroke-width="7" stroke-linejoin="round" />
</g>
<g transform="translate(1430 1130) scale(0.2497)">
<defs>
<linearGradient id="gY" x1="0" y1="0" x2="1" y2="1"><stop offset="0" stop-color="#d2d200"/><stop offset="0.45" stop-color="#f7f722"/><stop offset="1" stop-color="#c4c400"/></linearGradient>
<linearGradient id="gYd" x1="0" y1="0" x2="0" y2="1"><stop offset="0" stop-color="#a3a300"/><stop offset="1" stop-color="#d6d600"/></linearGradient>
</defs>
<path d="M895,232 C907,223 900,212 930,205 C960,198 947,199 985,212 C1023,225 1010,222 1045,245 C1080,268 1092,267 1090,282 C1088,297 1083,284 1040,290 C997,296 1013,291 960,300 C907,309 933,306 880,318 C827,330 844,320 800,335 C756,350 771,334 748,362 C725,390 730,377 732,420 C734,463 732,447 755,490 C778,533 762,517 800,548 C838,579 827,551 870,582 C913,613 892,604 930,640 C968,676 943,664 985,690 C1027,716 1012,714 1055,717 C1098,720 1082,719 1115,698 C1148,677 1142,669 1155,655" fill="none" stroke="#6f6f00" stroke-width="18" stroke-linecap="round"/>
<path d="M895,232 C907,223 900,212 930,205 C960,198 947,199 985,212 C1023,225 1010,222 1045,245 C1080,268 1092,267 1090,282 C1088,297 1083,284 1040,290 C997,296 1013,291 960,300 C907,309 933,306 880,318 C827,330 844,320 800,335 C756,350 771,334 748,362 C725,390 730,377 732,420 C734,463 732,447 755,490 C778,533 762,517 800,548 C838,579 827,551 870,582 C913,613 892,604 930,640 C968,676 943,664 985,690 C1027,716 1012,714 1055,717 C1098,720 1082,719 1115,698 C1148,677 1142,669 1155,655" fill="none" stroke="#e4e400" stroke-width="12" stroke-linecap="round"/>
<path d="M895,232 C907,223 900,212 930,205 C960,198 947,199 985,212 C1023,225 1010,222 1045,245 C1080,268 1092,267 1090,282 C1088,297 1083,284 1040,290 C997,296 1013,291 960,300 C907,309 933,306 880,318 C827,330 844,320 800,335 C756,350 771,334 748,362 C725,390 730,377 732,420 C734,463 732,447 755,490 C778,533 762,517 800,548 C838,579 827,551 870,582 C913,613 892,604 930,640 C968,676 943,664 985,690 C1027,716 1012,714 1055,717 C1098,720 1082,719 1115,698 C1148,677 1142,669 1155,655" fill="none" stroke="#f6f63a" stroke-width="5" stroke-linecap="round"/>
<path d="M430,632 C443,617 433,607 470,588 C507,569 500,572 540,576 C580,580 557,572 590,600 C623,628 603,620 640,660 C677,700 657,687 700,720 C743,753 723,743 770,760 C817,777 800,759 840,772 C880,785 867,774 890,800 C913,826 913,820 910,850 C907,880 912,874 882,890 C852,906 857,888 820,897 C783,906 795,896 770,917 C745,938 748,929 745,960 C742,991 750,977 760,1010 C770,1043 770,1043 775,1060" fill="none" stroke="#6f6f00" stroke-width="18" stroke-linecap="round"/>
<path d="M430,632 C443,617 433,607 470,588 C507,569 500,572 540,576 C580,580 557,572 590,600 C623,628 603,620 640,660 C677,700 657,687 700,720 C743,753 723,743 770,760 C817,777 800,759 840,772 C880,785 867,774 890,800 C913,826 913,820 910,850 C907,880 912,874 882,890 C852,906 857,888 820,897 C783,906 795,896 770,917 C745,938 748,929 745,960 C742,991 750,977 760,1010 C770,1043 770,1043 775,1060" fill="none" stroke="#e4e400" stroke-width="12" stroke-linecap="round"/>
<path d="M430,632 C443,617 433,607 470,588 C507,569 500,572 540,576 C580,580 557,572 590,600 C623,628 603,620 640,660 C677,700 657,687 700,720 C743,753 723,743 770,760 C817,777 800,759 840,772 C880,785 867,774 890,800 C913,826 913,820 910,850 C907,880 912,874 882,890 C852,906 857,888 820,897 C783,906 795,896 770,917 C745,938 748,929 745,960 C742,991 750,977 760,1010 C770,1043 770,1043 775,1060" fill="none" stroke="#f6f63a" stroke-width="5" stroke-linecap="round"/>
<path d="M205,178 C207,194 197,191 212,225 C227,259 214,245 250,280 C286,315 270,308 320,330 C370,352 358,348 400,345 C442,342 430,330 445,322" fill="none" stroke="#6f6f00" stroke-width="18" stroke-linecap="round"/>
<path d="M205,178 C207,194 197,191 212,225 C227,259 214,245 250,280 C286,315 270,308 320,330 C370,352 358,348 400,345 C442,342 430,330 445,322" fill="none" stroke="#e4e400" stroke-width="12" stroke-linecap="round"/>
<path d="M205,178 C207,194 197,191 212,225 C227,259 214,245 250,280 C286,315 270,308 320,330 C370,352 358,348 400,345 C442,342 430,330 445,322" fill="none" stroke="#f6f63a" stroke-width="5" stroke-linecap="round"/>
<path d="M412,300 C400,271 402,280 410,240 C418,200 412,211 435,180 C458,149 448,145 480,148 C512,151 523,156 530,190 C537,224 520,213 500,250 C480,287 488,275 470,300 C452,325 464,326 445,326 C426,326 424,329 412,300Z" fill="url(#gYd)" stroke="#6f6f00" stroke-width="4" stroke-linejoin="round"/>
<path d="M665,215 C665,180 675,188 700,185 C725,182 712,187 740,205 C768,223 782,217 785,240 C788,263 771,245 750,275 C729,305 735,302 722,330 C709,358 717,373 710,360 C703,347 715,338 700,290 C685,242 665,250 665,215Z" fill="url(#gYd)" stroke="#6f6f00" stroke-width="4" stroke-linejoin="round"/>
<path d="M470,148 C470,134 480,141 520,143 C560,145 548,141 590,155 C632,169 612,153 645,185 C678,217 668,208 688,250 C708,292 697,267 705,310 C713,353 727,356 712,378 C697,400 698,380 660,376 C622,372 623,391 598,366 C573,341 598,344 585,300 C572,256 582,273 560,235 C538,197 550,214 520,185 C490,156 470,162 470,148Z" fill="url(#gY)" stroke="#6f6f00" stroke-width="4" stroke-linejoin="round"/>
<path d="M700,185 C711,175 722,169 770,175 C818,181 804,176 845,203 C886,230 873,218 893,255 C913,292 908,272 905,315 C902,358 901,349 885,385 C869,421 871,419 858,422 C845,425 853,419 845,395 C837,371 846,383 835,350 C824,317 830,332 812,295 C794,258 805,268 780,238 C755,208 765,223 738,205 C711,187 689,195 700,185Z" fill="url(#gY)" stroke="#6f6f00" stroke-width="4" stroke-linejoin="round"/>
<path fill-rule="evenodd" fill="url(#gY)" stroke="#6f6f00" stroke-width="4" d="M1026,555 a152,135 0 1,0 304,0 a152,135 0 1,0 -304,0Z M1087,560 a108,95 0 1,0 216,0 a108,95 0 1,0 -216,0Z"/>
<path d="M1030,520 a150,135 0 0,0 60,150 a110,100 0 0,1 0,-190Z" fill="#b4b400" opacity="0.7"/>
<path d="M1160,610 C1140,603 1126,613 1100,590 C1074,567 1082,572 1082,540 C1082,508 1081,515 1100,495 C1119,475 1113,478 1140,480 C1167,482 1162,477 1180,500 C1198,523 1195,518 1195,548 C1195,578 1189,568 1180,590 C1171,612 1166,591 1168,615 C1170,639 1169,624 1185,662 C1201,700 1193,692 1215,730 C1237,768 1218,755 1250,775 C1282,795 1268,783 1310,790 C1352,797 1363,783 1375,795 C1387,807 1369,802 1345,825 C1321,848 1307,842 1302,865 C1297,888 1294,880 1330,893 C1366,906 1373,904 1410,905 C1447,906 1432,906 1442,895 C1452,884 1441,880 1440,872" fill="none" stroke="#6f6f00" stroke-width="18" stroke-linecap="round"/>
<path d="M1160,610 C1140,603 1126,613 1100,590 C1074,567 1082,572 1082,540 C1082,508 1081,515 1100,495 C1119,475 1113,478 1140,480 C1167,482 1162,477 1180,500 C1198,523 1195,518 1195,548 C1195,578 1189,568 1180,590 C1171,612 1166,591 1168,615 C1170,639 1169,624 1185,662 C1201,700 1193,692 1215,730 C1237,768 1218,755 1250,775 C1282,795 1268,783 1310,790 C1352,797 1363,783 1375,795 C1387,807 1369,802 1345,825 C1321,848 1307,842 1302,865 C1297,888 1294,880 1330,893 C1366,906 1373,904 1410,905 C1447,906 1432,906 1442,895 C1452,884 1441,880 1440,872" fill="none" stroke="#e4e400" stroke-width="12" stroke-linecap="round"/>
<path d="M1160,610 C1140,603 1126,613 1100,590 C1074,567 1082,572 1082,540 C1082,508 1081,515 1100,495 C1119,475 1113,478 1140,480 C1167,482 1162,477 1180,500 C1198,523 1195,518 1195,548 C1195,578 1189,568 1180,590 C1171,612 1166,591 1168,615 C1170,639 1169,624 1185,662 C1201,700 1193,692 1215,730 C1237,768 1218,755 1250,775 C1282,795 1268,783 1310,790 C1352,797 1363,783 1375,795 C1387,807 1369,802 1345,825 C1321,848 1307,842 1302,865 C1297,888 1294,880 1330,893 C1366,906 1373,904 1410,905 C1447,906 1432,906 1442,895 C1452,884 1441,880 1440,872" fill="none" stroke="#f6f63a" stroke-width="5" stroke-linecap="round"/>
<path d="M250,800 C252,762 243,777 265,735 C287,693 275,707 315,675 C355,643 342,656 385,640 C428,624 405,629 445,628 C485,627 471,622 505,636 C539,650 529,644 548,670 C567,696 563,684 562,715 C561,746 564,734 545,762 C526,790 532,781 505,798 C478,815 471,821 465,812 C459,803 483,800 488,770 C493,740 496,746 480,722 C464,698 469,704 440,697 C411,690 424,687 392,700 C360,713 366,703 345,735 C324,767 329,757 330,795 C331,833 326,821 348,850 C370,879 367,875 395,882 C423,889 435,851 432,870 C429,889 416,916 385,940 C354,964 372,955 340,942 C308,929 317,931 290,900 C263,869 273,883 260,850 C247,817 248,838 250,800Z" fill="url(#gY)" stroke="#6f6f00" stroke-width="4" stroke-linejoin="round"/>
<ellipse cx="443" cy="760" rx="50" ry="44" fill="#fff" stroke="#6f6f00" stroke-width="4" transform="rotate(-20 443 760)"/>
<path d="M90,975 C95,952 90,960 105,905 C120,850 112,867 135,810 C158,753 145,768 175,735 C205,702 185,714 225,710 C265,706 252,704 295,722 C338,740 321,731 355,765 C389,799 376,789 398,825 C420,861 413,856 420,872" fill="none" stroke="#6f6f00" stroke-width="18" stroke-linecap="round"/>
<path d="M90,975 C95,952 90,960 105,905 C120,850 112,867 135,810 C158,753 145,768 175,735 C205,702 185,714 225,710 C265,706 252,704 295,722 C338,740 321,731 355,765 C389,799 376,789 398,825 C420,861 413,856 420,872" fill="none" stroke="#e4e400" stroke-width="12" stroke-linecap="round"/>
<path d="M90,975 C95,952 90,960 105,905 C120,850 112,867 135,810 C158,753 145,768 175,735 C205,702 185,714 225,710 C265,706 252,704 295,722 C338,740 321,731 355,765 C389,799 376,789 398,825 C420,861 413,856 420,872" fill="none" stroke="#f6f63a" stroke-width="5" stroke-linecap="round"/>
<path d="M880,1120 C875,1088 907,1085 915,1040 C923,995 898,982 905,985 C912,988 911,1008 935,1050 C959,1092 980,1084 978,1112 C976,1140 963,1132 930,1135 C897,1138 885,1152 880,1120Z" fill="url(#gYd)" stroke="#6f6f00" stroke-width="4" stroke-linejoin="round"/>
<path d="M1100,1100 C1090,1072 1122,1064 1130,1012 C1138,960 1115,949 1125,945 C1135,941 1131,958 1160,1000 C1189,1042 1212,1040 1212,1072 C1212,1104 1197,1087 1160,1096 C1123,1105 1110,1128 1100,1100Z" fill="url(#gYd)" stroke="#6f6f00" stroke-width="4" stroke-linejoin="round"/>
<path d="M1320,1052 C1319,1017 1346,1024 1378,980 C1410,936 1397,947 1415,920 C1433,893 1423,871 1432,898 C1441,925 1445,946 1442,1000 C1439,1054 1443,1031 1422,1060 C1401,1089 1414,1089 1380,1086 C1346,1083 1321,1087 1320,1052Z" fill="url(#gYd)" stroke="#6f6f00" stroke-width="4" stroke-linejoin="round"/>
<path d="M770,1040 C788,1040 787,1070 830,1100 C873,1130 852,1127 900,1130 C948,1133 961,1103 975,1110 C989,1117 990,1130 942,1150 C894,1170 879,1167 830,1170 C781,1173 813,1183 795,1160 C777,1137 783,1140 775,1100 C767,1060 752,1040 770,1040Z" fill="url(#gY)" stroke="#6f6f00" stroke-width="4" stroke-linejoin="round"/>
<path d="M895,940 C927,915 962,895 1000,915 C1038,935 993,948 1010,1000 C1027,1052 1020,1037 1050,1070 C1080,1103 1107,1081 1100,1100 C1093,1119 1072,1123 1030,1126 C988,1129 1008,1135 975,1110 C942,1085 953,1090 930,1050 C907,1010 917,1027 905,990 C893,953 863,965 895,940Z" fill="url(#gY)" stroke="#6f6f00" stroke-width="4" stroke-linejoin="round"/>
<path d="M1125,885 C1160,861 1197,843 1240,868 C1283,893 1235,903 1255,960 C1275,1017 1268,1000 1300,1040 C1332,1080 1357,1061 1350,1080 C1343,1099 1327,1099 1280,1096 C1233,1093 1250,1102 1210,1070 C1170,1038 1185,1043 1160,1000 C1135,957 1147,978 1135,940 C1123,902 1090,909 1125,885Z" fill="url(#gY)" stroke="#6f6f00" stroke-width="4" stroke-linejoin="round"/>
<path d="M760,962 C747,966 753,962 720,975 C687,988 700,998 660,1002 C620,1006 631,986 600,986 C569,986 575,989 568,1002 C561,1015 561,1014 580,1025 C599,1036 588,1040 625,1035 C662,1030 650,1033 690,1010 C730,987 727,980 745,965" fill="none" stroke="#6f6f00" stroke-width="18" stroke-linecap="round"/>
<path d="M760,962 C747,966 753,962 720,975 C687,988 700,998 660,1002 C620,1006 631,986 600,986 C569,986 575,989 568,1002 C561,1015 561,1014 580,1025 C599,1036 588,1040 625,1035 C662,1030 650,1033 690,1010 C730,987 727,980 745,965" fill="none" stroke="#e4e400" stroke-width="12" stroke-linecap="round"/>
<path d="M760,962 C747,966 753,962 720,975 C687,988 700,998 660,1002 C620,1006 631,986 600,986 C569,986 575,989 568,1002 C561,1015 561,1014 580,1025 C599,1036 588,1040 625,1035 C662,1030 650,1033 690,1010 C730,987 727,980 745,965" fill="none" stroke="#f6f63a" stroke-width="5" stroke-linecap="round"/>
<path d="M875,80 C857,88 858,87 820,105 C782,123 793,110 760,135 C727,160 737,145 722,180 C707,215 722,200 715,240 C708,280 718,263 700,300 C682,337 693,320 660,350 C627,380 638,370 600,390 C562,410 573,411 545,410 C517,409 519,405 517,386 C515,367 509,366 540,352 C571,338 560,343 610,345 C660,347 643,339 690,357 C737,375 718,362 750,400 C782,438 778,423 785,470 C792,517 790,500 772,540 C754,580 764,565 730,590 C696,615 709,608 670,615 C631,622 640,618 612,610 C584,602 588,605 587,590 C586,575 582,577 610,565 C638,553 627,553 670,555 C713,557 700,552 740,570 C780,588 763,577 790,610 C817,643 813,630 820,670 C827,710 829,693 812,730 C795,767 804,753 770,780 C736,807 748,795 710,810 C672,825 681,821 655,825 C629,829 640,823 632,822" fill="none" stroke="#474c96" stroke-width="23" stroke-linecap="round"/>
<path d="M875,80 C857,88 858,87 820,105 C782,123 793,110 760,135 C727,160 737,145 722,180 C707,215 722,200 715,240 C708,280 718,263 700,300 C682,337 693,320 660,350 C627,380 638,370 600,390 C562,410 573,411 545,410 C517,409 519,405 517,386 C515,367 509,366 540,352 C571,338 560,343 610,345 C660,347 643,339 690,357 C737,375 718,362 750,400 C782,438 778,423 785,470 C792,517 790,500 772,540 C754,580 764,565 730,590 C696,615 709,608 670,615 C631,622 640,618 612,610 C584,602 588,605 587,590 C586,575 582,577 610,565 C638,553 627,553 670,555 C713,557 700,552 740,570 C780,588 763,577 790,610 C817,643 813,630 820,670 C827,710 829,693 812,730 C795,767 804,753 770,780 C736,807 748,795 710,810 C672,825 681,821 655,825 C629,829 640,823 632,822" fill="none" stroke="#7378cf" stroke-width="17" stroke-linecap="round"/>
<path d="M875,80 C857,88 858,87 820,105 C782,123 793,110 760,135 C727,160 737,145 722,180 C707,215 722,200 715,240 C708,280 718,263 700,300 C682,337 693,320 660,350 C627,380 638,370 600,390 C562,410 573,411 545,410 C517,409 519,405 517,386 C515,367 509,366 540,352 C571,338 560,343 610,345 C660,347 643,339 690,357 C737,375 718,362 750,400 C782,438 778,423 785,470 C792,517 790,500 772,540 C754,580 764,565 730,590 C696,615 709,608 670,615 C631,622 640,618 612,610 C584,602 588,605 587,590 C586,575 582,577 610,565 C638,553 627,553 670,555 C713,557 700,552 740,570 C780,588 763,577 790,610 C817,643 813,630 820,670 C827,710 829,693 812,730 C795,767 804,753 770,780 C736,807 748,795 710,810 C672,825 681,821 655,825 C629,829 640,823 632,822" fill="none" stroke="#8f94e4" stroke-width="8" stroke-linecap="round"/>
<path d="M655,820 C670,813 662,807 700,800 C738,793 727,790 770,800 C813,810 800,800 830,830 C860,860 850,850 860,890 C870,930 870,913 860,950 C850,987 860,977 830,1000 C800,1023 813,1011 770,1020 C727,1029 739,1019 700,1026 C661,1033 673,1027 652,1040 C631,1053 633,1048 636,1065 C639,1082 632,1080 660,1090 C688,1100 673,1101 720,1096 C767,1091 750,1085 800,1076 C850,1067 830,1062 870,1070 C910,1078 892,1073 920,1100 C948,1127 938,1113 955,1150 C972,1187 972,1170 970,1210 C968,1250 968,1230 950,1270 C932,1310 932,1287 915,1330 C898,1373 902,1346 900,1400 C898,1454 907,1461 910,1492" fill="none" stroke="#474c96" stroke-width="23" stroke-linecap="round"/>
<path d="M655,820 C670,813 662,807 700,800 C738,793 727,790 770,800 C813,810 800,800 830,830 C860,860 850,850 860,890 C870,930 870,913 860,950 C850,987 860,977 830,1000 C800,1023 813,1011 770,1020 C727,1029 739,1019 700,1026 C661,1033 673,1027 652,1040 C631,1053 633,1048 636,1065 C639,1082 632,1080 660,1090 C688,1100 673,1101 720,1096 C767,1091 750,1085 800,1076 C850,1067 830,1062 870,1070 C910,1078 892,1073 920,1100 C948,1127 938,1113 955,1150 C972,1187 972,1170 970,1210 C968,1250 968,1230 950,1270 C932,1310 932,1287 915,1330 C898,1373 902,1346 900,1400 C898,1454 907,1461 910,1492" fill="none" stroke="#7378cf" stroke-width="17" stroke-linecap="round"/>
<path d="M655,820 C670,813 662,807 700,800 C738,793 727,790 770,800 C813,810 800,800 830,830 C860,860 850,850 860,890 C870,930 870,913 860,950 C850,987 860,977 830,1000 C800,1023 813,1011 770,1020 C727,1029 739,1019 700,1026 C661,1033 673,1027 652,1040 C631,1053 633,1048 636,1065 C639,1082 632,1080 660,1090 C688,1100 673,1101 720,1096 C767,1091 750,1085 800,1076 C850,1067 830,1062 870,1070 C910,1078 892,1073 920,1100 C948,1127 938,1113 955,1150 C972,1187 972,1170 970,1210 C968,1250 968,1230 950,1270 C932,1310 932,1287 915,1330 C898,1373 902,1346 900,1400 C898,1454 907,1461 910,1492" fill="none" stroke="#8f94e4" stroke-width="8" stroke-linecap="round"/>
</g>
<text x="1555.0" y="832.9" text-anchor="middle" font-size="29.4" font-family='"Liberation Sans", sans-serif'><tspan font-family='"Liberation Serif", serif' font-size="31.8">α</tspan>1</text>
<text x="1750.0" y="900.3" text-anchor="middle" font-size="29.4" font-family='"Liberation Sans", sans-serif'><tspan font-family='"Liberation Serif", serif' font-size="31.8">α</tspan>2</text>
<text x="1754.0" y="1010.9" text-anchor="middle" font-size="29.4" font-family='"Liberation Sans", sans-serif'><tspan font-family='"Liberation Serif", serif' font-size="31.8">α</tspan>3</text>
<text x="1507.5" y="973.3" text-anchor="middle" font-size="29.4" font-family='"Liberation Sans", sans-serif'><tspan font-family='"Liberation Serif", serif' font-size="31.8">α</tspan>4</text>
<text x="1443.0" y="918.8" font-size="29.4" text-anchor="start" font-weight="normal" font-family='"Liberation Sans", sans-serif' >N</text>
<text x="1496.3" y="1039.5" font-size="29.4" text-anchor="start" font-weight="normal" font-family='"Liberation Sans", sans-serif' >C</text>
<rect x="1855.1" y="1112" width="36.3" height="36.7" fill="#ff0000" stroke="#000" stroke-width="1.8"/>
<rect x="1855.1" y="1148.7" width="36.3" height="36.6" fill="#ff6666" stroke="#000" stroke-width="1.8"/>
<rect x="1855.1" y="1185.3" width="36.3" height="36.6" fill="#ffffff" stroke="#000" stroke-width="1.8"/>
<text x="1890.8" y="1099.4" font-size="25.2" text-anchor="start" font-weight="normal" font-family='"Liberation Sans", sans-serif' >(p.p.m.)</text>
<text x="1903.9" y="1155.5" font-size="25.2" text-anchor="start" font-weight="normal" font-family='"Liberation Sans", sans-serif' >0.12</text>
<text x="1903.9" y="1193.1" font-size="25.2" text-anchor="start" font-weight="normal" font-family='"Liberation Sans", sans-serif' >0.06</text>
<text x="1903.9" y="1229.7" font-size="25.2" text-anchor="start" font-weight="normal" font-family='"Liberation Sans", sans-serif' >0</text>
</svg></body></html>
